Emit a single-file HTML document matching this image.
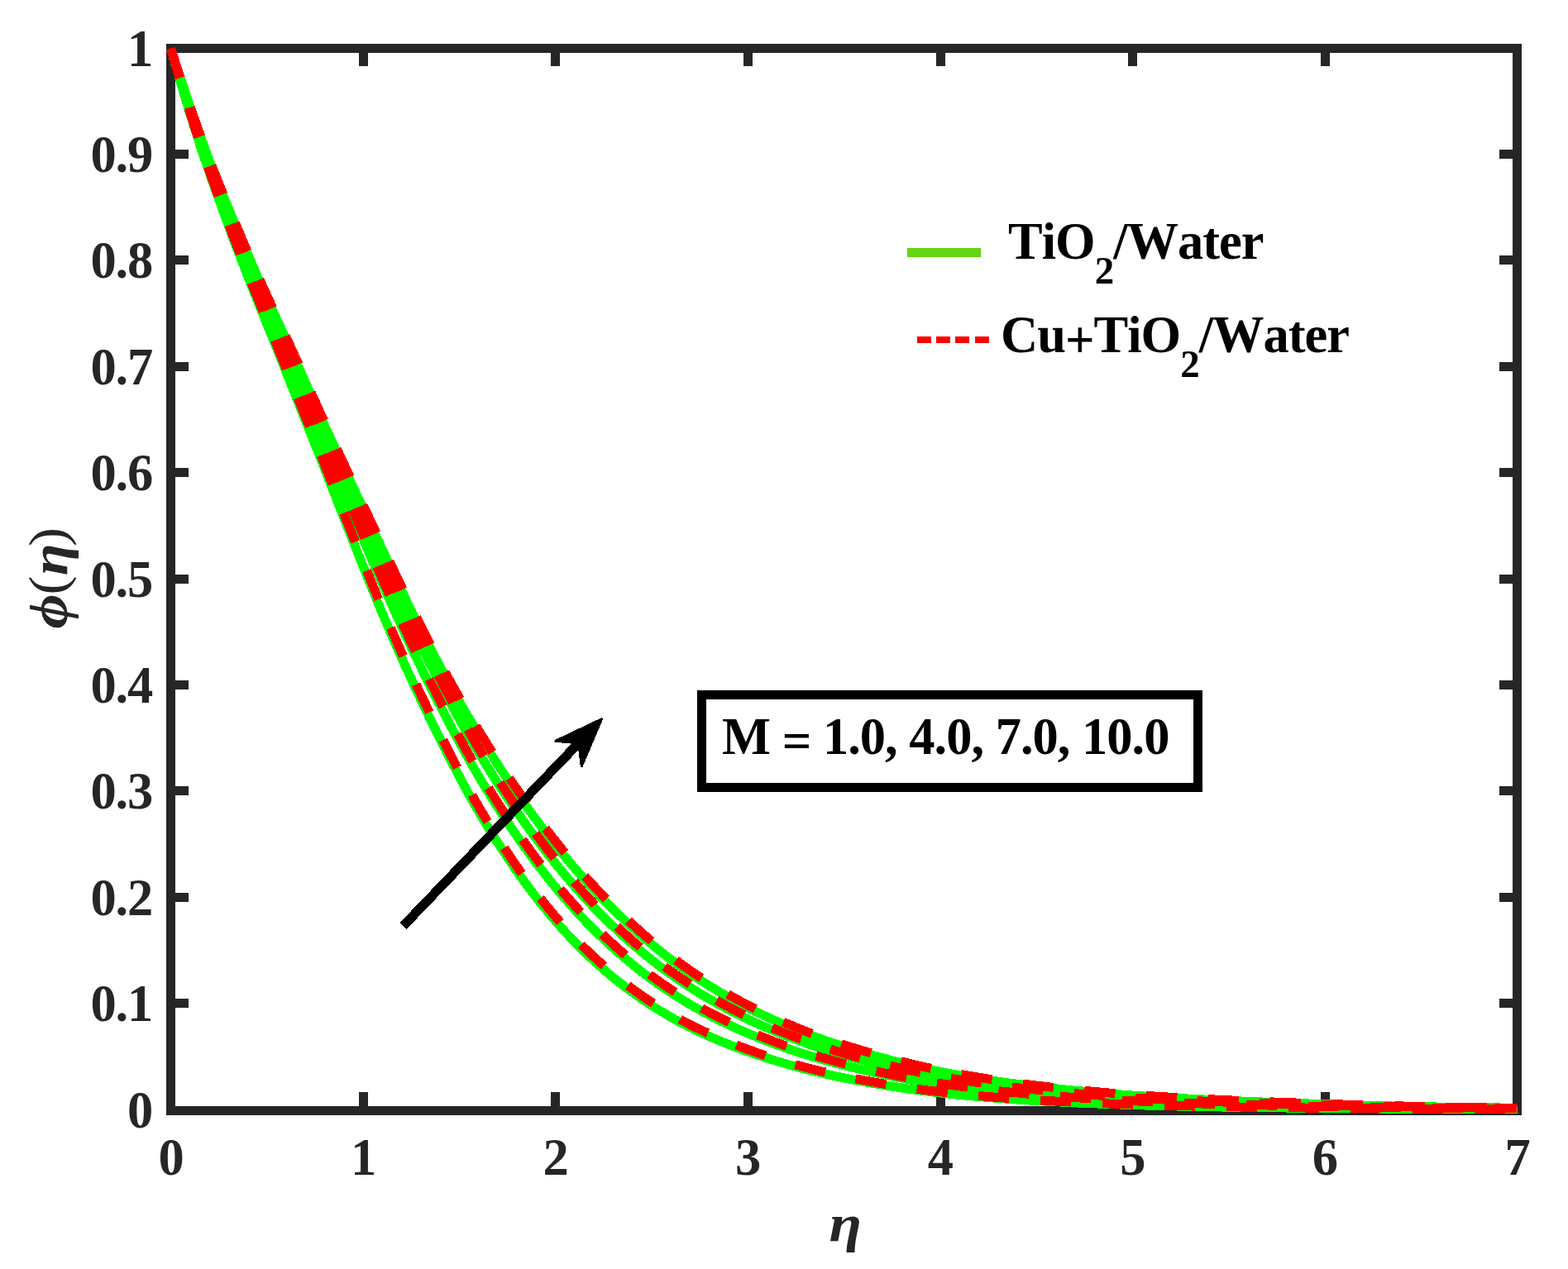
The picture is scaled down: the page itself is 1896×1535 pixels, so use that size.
<!DOCTYPE html>
<html lang="en"><head><meta charset="utf-8"><title>Concentration profile</title>
<style>html,body{margin:0;padding:0;background:#fff}svg{display:block}.tk{font-family:"Liberation Serif",serif;font-weight:bold;font-size:62.5px;fill:#262626;font-kerning:none}.an{font-family:"Liberation Serif",serif;font-weight:bold;font-size:62.5px;fill:#000;font-kerning:none;letter-spacing:-1px}.gr{font-family:"Liberation Serif","DejaVu Serif",serif;font-weight:bold;font-style:italic;fill:#262626}.pr{font-family:"Liberation Serif","DejaVu Serif",serif;font-weight:normal;font-style:normal;fill:#262626}</style></head><body>
<svg width="1896" height="1535" viewBox="0 0 1896 1535">
<rect x="0" y="0" width="1896" height="1535" fill="#fff"/>
<defs><clipPath id="cp"><rect x="201" y="53" width="1639" height="1296"/></clipPath></defs>
<g shape-rendering="crispEdges" fill="#262626">
<rect x="201" y="53" width="1639" height="11"/>
<rect x="201" y="1338" width="1639" height="11"/>
<rect x="201" y="53" width="11" height="1296"/>
<rect x="1829" y="53" width="11" height="1296"/>
<rect x="434" y="1321" width="11" height="18"/>
<rect x="434" y="63" width="11" height="17"/>
<rect x="666" y="1321" width="11" height="18"/>
<rect x="666" y="63" width="11" height="17"/>
<rect x="899" y="1321" width="11" height="18"/>
<rect x="899" y="63" width="11" height="17"/>
<rect x="1132" y="1321" width="11" height="18"/>
<rect x="1132" y="63" width="11" height="17"/>
<rect x="1364" y="1321" width="11" height="18"/>
<rect x="1364" y="63" width="11" height="17"/>
<rect x="1597" y="1321" width="11" height="18"/>
<rect x="1597" y="63" width="11" height="17"/>
<rect x="211" y="1208" width="17" height="11"/>
<rect x="1813" y="1208" width="17" height="11"/>
<rect x="211" y="1080" width="17" height="11"/>
<rect x="1813" y="1080" width="17" height="11"/>
<rect x="211" y="951" width="17" height="11"/>
<rect x="1813" y="951" width="17" height="11"/>
<rect x="211" y="823" width="17" height="11"/>
<rect x="1813" y="823" width="17" height="11"/>
<rect x="211" y="695" width="17" height="11"/>
<rect x="1813" y="695" width="17" height="11"/>
<rect x="211" y="566" width="17" height="11"/>
<rect x="1813" y="566" width="17" height="11"/>
<rect x="211" y="438" width="17" height="11"/>
<rect x="1813" y="438" width="17" height="11"/>
<rect x="211" y="309" width="17" height="11"/>
<rect x="1813" y="309" width="17" height="11"/>
<rect x="211" y="181" width="17" height="11"/>
<rect x="1813" y="181" width="17" height="11"/>
</g>
<g class="tk" text-anchor="middle">
<text x="207.0" y="1420.7">0</text>
<text x="439.6" y="1420.7">1</text>
<text x="672.1" y="1420.7">2</text>
<text x="904.7" y="1420.7">3</text>
<text x="1137.3" y="1420.7">4</text>
<text x="1369.9" y="1420.7">5</text>
<text x="1602.4" y="1420.7">6</text>
<text x="1835.0" y="1420.7">7</text>
</g>
<g class="tk" text-anchor="end" letter-spacing="-1.2">
<text x="184" y="1363.5">0</text>
<text x="184" y="1235.1">0.1</text>
<text x="184" y="1106.7">0.2</text>
<text x="184" y="978.3">0.3</text>
<text x="184" y="850.0">0.4</text>
<text x="184" y="721.6">0.5</text>
<text x="184" y="593.2">0.6</text>
<text x="184" y="464.8">0.7</text>
<text x="184" y="336.4">0.8</text>
<text x="184" y="208.0">0.9</text>
<text x="184" y="79.6">1</text>
</g>
<text class="gr" transform="translate(1004.7,1500.8) scale(1.12,1)" x="-2" y="0" font-size="64.3">η</text>
<text class="gr" transform="translate(81.1,759.3) rotate(-90) scale(1.1,1)" font-size="64.3"><tspan x="-1" font-size="66">ϕ</tspan><tspan class="pr" x="36.1" dy="-2.5" font-size="62.8">(</tspan><tspan x="57.4" dy="2.5">η</tspan><tspan class="pr" x="89.4" dy="-2.5" font-size="62.8">)</tspan></text>
<g clip-path="url(#cp)" fill="none" shape-rendering="crispEdges" stroke-linejoin="round">
<path d="M206.50,58.50 L208.83,66.70 L211.16,74.83 L213.49,82.89 L215.82,90.88 L218.15,98.79 L220.47,106.64 L222.80,114.41 L225.13,122.11 L227.46,129.74 L229.79,137.30 L232.12,144.78 L234.45,152.19 L236.78,159.52 L239.11,166.77 L241.44,173.92 L243.76,180.99 L246.09,187.97 L248.42,194.87 L250.75,201.69 L253.08,208.43 L255.41,215.11 L257.74,221.71 L260.07,228.26 L262.40,234.75 L264.73,241.20 L267.06,247.61 L269.38,253.98 L271.71,260.34 L274.04,266.68 L276.37,273.02 L278.70,279.34 L281.03,285.61 L283.36,291.84 L285.69,298.02 L288.02,304.16 L290.35,310.26 L292.67,316.32 L295.00,322.34 L297.33,328.33 L299.66,334.29 L301.99,340.21 L304.32,346.10 L306.65,351.97 L308.98,357.81 L311.31,363.63 L313.64,369.42 L315.96,375.20 L318.29,380.96 L320.62,386.70 L322.95,392.43 L325.28,398.17 L327.61,403.93 L329.94,409.70 L332.27,415.50 L334.60,421.31 L336.93,427.13 L339.26,432.97 L341.58,438.82 L343.91,444.68 L346.24,450.55 L348.57,456.42 L350.90,462.30 L353.23,468.17 L355.56,474.05 L357.89,479.92 L360.22,485.78 L362.55,491.63 L364.87,497.47 L367.20,503.29 L369.53,509.08 L371.86,514.85 L374.19,520.60 L376.52,526.35 L378.85,532.14 L381.18,537.97 L383.51,543.83 L385.84,549.72 L388.17,555.63 L390.49,561.57 L392.82,567.52 L395.15,573.49 L397.48,579.47 L399.81,585.46 L402.14,591.45 L404.47,597.44 L406.80,603.42 L409.13,609.40 L411.46,615.36 L413.78,621.31 L416.11,627.23 L418.44,633.13 L420.77,638.99 L423.10,644.82 L425.43,650.65 L427.76,656.48 L430.09,662.32 L432.42,668.16 L434.75,674.01 L437.08,679.84 L439.40,685.67 L441.73,691.49 L444.06,697.30 L446.39,703.08 L448.72,708.85 L451.05,714.58 L453.38,720.29 L455.71,725.97 L458.04,731.61 L460.37,737.21 L462.69,742.77 L465.02,748.28 L467.35,753.75 L469.68,759.19 L472.01,764.60 L474.34,769.98 L476.67,775.32 L479.00,780.63 L481.33,785.91 L483.66,791.16 L485.98,796.38 L488.31,801.57 L490.64,806.73 L492.97,811.86 L495.30,816.96 L497.63,822.03 L499.96,827.08 L502.29,832.09 L504.62,837.08 L506.95,842.03 L509.28,846.96 L511.60,851.87 L513.93,856.74 L516.26,861.59 L518.59,866.41 L520.92,871.21 L523.25,875.98 L525.58,880.73 L527.91,885.45 L530.24,890.16 L532.57,894.84 L534.89,899.50 L537.22,904.14 L539.55,908.75 L541.88,913.34 L544.21,917.90 L546.54,922.43 L548.87,926.93 L551.20,931.40 L553.53,935.84 L555.86,940.24 L558.19,944.62 L560.51,948.95 L562.84,953.25 L565.17,957.51 L567.50,961.74 L569.83,965.92 L572.16,970.07 L574.49,974.17 L576.82,978.23 L579.15,982.25 L581.48,986.23 L583.80,990.16 L586.13,994.05 L588.46,997.89 L590.79,1001.69 L593.12,1005.45 L595.45,1009.18 L597.78,1012.87 L600.11,1016.54 L602.44,1020.18 L604.77,1023.78 L607.10,1027.35 L609.42,1030.89 L611.75,1034.40 L614.08,1037.88 L616.41,1041.33 L618.74,1044.74 L621.07,1048.13 L623.40,1051.48 L625.73,1054.80 L628.06,1058.09 L630.39,1061.35 L632.71,1064.58 L635.04,1067.78 L637.37,1070.94 L639.70,1074.08 L642.03,1077.18 L644.36,1080.25 L646.69,1083.29 L649.02,1086.30 L651.35,1089.28 L653.68,1092.23 L656.01,1095.15 L658.33,1098.04 L660.66,1100.90 L662.99,1103.72 L665.32,1106.52 L667.65,1109.29 L669.98,1112.03 L672.31,1114.73 L674.64,1117.41 L676.97,1120.06 L679.30,1122.68 L681.62,1125.26 L683.95,1127.82 L686.28,1130.35 L688.61,1132.86 L690.94,1135.33 L693.27,1137.77 L695.60,1140.19 L697.93,1142.57 L700.26,1144.93 L702.59,1147.26 L704.91,1149.57 L707.24,1151.84 L709.57,1154.09 L711.90,1156.31 L714.23,1158.50 L716.56,1160.67 L718.89,1162.80 L721.22,1164.92 L723.55,1167.01 L725.88,1169.08 L728.21,1171.12 L730.53,1173.15 L732.86,1175.15 L735.19,1177.12 L737.52,1179.08 L739.85,1181.01 L742.18,1182.92 L744.51,1184.81 L746.84,1186.68 L749.17,1188.53 L751.50,1190.35 L753.82,1192.16 L756.15,1193.94 L758.48,1195.70 L760.81,1197.44 L763.14,1199.16 L765.47,1200.86 L767.80,1202.54 L770.13,1204.20 L772.46,1205.84 L774.79,1207.46 L777.12,1209.06 L779.44,1210.64 L781.77,1212.20 L784.10,1213.75 L786.43,1215.27 L788.76,1216.78 L791.09,1218.26 L793.42,1219.73 L795.75,1221.18 L798.08,1222.61 L800.41,1224.03 L802.73,1225.42 L805.06,1226.80 L807.39,1228.16 L809.72,1229.50 L812.05,1230.83 L814.38,1232.14 L816.71,1233.43 L819.04,1234.71 L821.37,1235.97 L823.70,1237.21 L826.03,1238.43 L828.35,1239.64 L830.68,1240.84 L833.01,1242.02 L835.34,1243.18 L837.67,1244.33 L840.00,1245.46 L842.33,1246.58 L844.66,1247.69 L846.99,1248.78 L849.32,1249.86 L851.64,1250.93 L853.97,1251.98 L856.30,1253.02 L858.63,1254.05 L860.96,1255.07 L863.29,1256.07 L865.62,1257.07 L867.95,1258.05 L870.28,1259.02 L872.61,1259.98 L874.93,1260.94 L877.26,1261.88 L879.59,1262.81 L881.92,1263.73 L884.25,1264.64 L886.58,1265.54 L888.91,1266.43 L891.24,1267.32 L893.57,1268.19 L895.90,1269.06 L898.23,1269.92 L900.55,1270.77 L902.88,1271.61 L905.21,1272.44 L907.54,1273.26 L909.87,1274.07 L912.20,1274.88 L914.53,1275.67 L916.86,1276.46 L919.19,1277.24 L921.52,1278.01 L923.84,1278.77 L926.17,1279.52 L928.50,1280.27 L930.83,1281.00 L933.16,1281.73 L935.49,1282.45 L937.82,1283.16 L940.15,1283.86 L942.48,1284.56 L944.81,1285.25 L947.14,1285.93 L949.46,1286.60 L951.79,1287.27 L954.12,1287.92 L956.45,1288.57 L958.78,1289.22 L961.11,1289.85 L963.44,1290.48 L965.77,1291.10 L968.10,1291.72 L970.43,1292.32 L972.75,1292.93 L975.08,1293.52 L977.41,1294.11 L979.74,1294.69 L982.07,1295.26 L984.40,1295.83 L986.73,1296.39 L989.06,1296.94 L991.39,1297.49 L993.72,1298.03 L996.05,1298.56 L998.37,1299.09 L1000.70,1299.61 L1003.03,1300.13 L1005.36,1300.64 L1007.69,1301.14 L1010.02,1301.64 L1012.35,1302.14 L1014.68,1302.62 L1017.01,1303.11 L1019.34,1303.58 L1021.66,1304.05 L1023.99,1304.52 L1026.32,1304.98 L1028.65,1305.44 L1030.98,1305.89 L1033.31,1306.33 L1035.64,1306.77 L1037.97,1307.21 L1040.30,1307.64 L1042.63,1308.07 L1044.95,1308.49 L1047.28,1308.91 L1049.61,1309.32 L1051.94,1309.73 L1054.27,1310.14 L1056.60,1310.54 L1058.93,1310.93 L1061.26,1311.33 L1063.59,1311.72 L1065.92,1312.10 L1068.25,1312.49 L1070.57,1312.86 L1072.90,1313.24 L1075.23,1313.61 L1077.56,1313.98 L1079.89,1314.35 L1082.22,1314.71 L1084.55,1315.06 L1086.88,1315.42 L1089.21,1315.76 L1091.54,1316.11 L1093.86,1316.45 L1096.19,1316.79 L1098.52,1317.12 L1100.85,1317.45 L1103.18,1317.77 L1105.51,1318.09 L1107.84,1318.41 L1110.17,1318.72 L1112.50,1319.02 L1114.83,1319.32 L1117.16,1319.62 L1119.48,1319.91 L1121.81,1320.20 L1124.14,1320.49 L1126.47,1320.77 L1128.80,1321.04 L1131.13,1321.31 L1133.46,1321.58 L1135.79,1321.84 L1138.12,1322.09 L1140.45,1322.35 L1142.77,1322.60 L1145.10,1322.85 L1147.43,1323.09 L1149.76,1323.33 L1152.09,1323.57 L1154.42,1323.81 L1156.75,1324.04 L1159.08,1324.27 L1161.41,1324.50 L1163.74,1324.72 L1166.07,1324.95 L1168.39,1325.17 L1170.72,1325.38 L1173.05,1325.60 L1175.38,1325.81 L1177.71,1326.02 L1180.04,1326.22 L1182.37,1326.43 L1184.70,1326.63 L1187.03,1326.83 L1189.36,1327.02 L1191.68,1327.21 L1194.01,1327.41 L1196.34,1327.59 L1198.67,1327.78 L1201.00,1327.96 L1203.33,1328.14 L1205.66,1328.32 L1207.99,1328.50 L1210.32,1328.67 L1212.65,1328.84 L1214.97,1329.01 L1217.30,1329.18 L1219.63,1329.34 L1221.96,1329.51 L1224.29,1329.67 L1226.62,1329.82 L1228.95,1329.98 L1231.28,1330.13 L1233.61,1330.29 L1235.94,1330.43 L1238.27,1330.58 L1240.59,1330.73 L1242.92,1330.87 L1245.25,1331.01 L1247.58,1331.15 L1249.91,1331.29 L1252.24,1331.42 L1254.57,1331.55 L1256.90,1331.69 L1259.23,1331.82 L1261.56,1331.94 L1263.88,1332.07 L1266.21,1332.20 L1268.54,1332.32 L1270.87,1332.44 L1273.20,1332.57 L1275.53,1332.69 L1277.86,1332.81 L1280.19,1332.92 L1282.52,1333.04 L1284.85,1333.15 L1287.18,1333.27 L1289.50,1333.38 L1291.83,1333.49 L1294.16,1333.60 L1296.49,1333.71 L1298.82,1333.82 L1301.15,1333.92 L1303.48,1334.03 L1305.81,1334.13 L1308.14,1334.24 L1310.47,1334.34 L1312.79,1334.44 L1315.12,1334.54 L1317.45,1334.63 L1319.78,1334.73 L1322.11,1334.83 L1324.44,1334.92 L1326.77,1335.01 L1329.10,1335.11 L1331.43,1335.20 L1333.76,1335.29 L1336.09,1335.38 L1338.41,1335.47 L1340.74,1335.55 L1343.07,1335.64 L1345.40,1335.72 L1347.73,1335.81 L1350.06,1335.89 L1352.39,1335.97 L1354.72,1336.05 L1357.05,1336.13 L1359.38,1336.21 L1361.70,1336.29 L1364.03,1336.37 L1366.36,1336.44 L1368.69,1336.52 L1371.02,1336.59 L1373.35,1336.67 L1375.68,1336.74 L1378.01,1336.81 L1380.34,1336.88 L1382.67,1336.95 L1384.99,1337.02 L1387.32,1337.09 L1389.65,1337.16 L1391.98,1337.22 L1394.31,1337.29 L1396.64,1337.35 L1398.97,1337.42 L1401.30,1337.48 L1403.63,1337.54 L1405.96,1337.60 L1408.29,1337.66 L1410.61,1337.72 L1412.94,1337.78 L1415.27,1337.83 L1417.60,1337.89 L1419.93,1337.94 L1422.26,1337.99 L1424.59,1338.05 L1426.92,1338.10 L1429.25,1338.15 L1431.58,1338.20 L1433.90,1338.24 L1436.23,1338.29 L1438.56,1338.34 L1440.89,1338.38 L1443.22,1338.43 L1445.55,1338.47 L1447.88,1338.52 L1450.21,1338.56 L1452.54,1338.60 L1454.87,1338.64 L1457.20,1338.68 L1459.52,1338.72 L1461.85,1338.76 L1464.18,1338.80 L1466.51,1338.84 L1468.84,1338.88 L1471.17,1338.91 L1473.50,1338.95 L1475.83,1338.99 L1478.16,1339.02 L1480.49,1339.06 L1482.81,1339.09 L1485.14,1339.13 L1487.47,1339.16 L1489.80,1339.19 L1492.13,1339.23 L1494.46,1339.26 L1496.79,1339.29 L1499.12,1339.32 L1501.45,1339.35 L1503.78,1339.39 L1506.11,1339.42 L1508.43,1339.45 L1510.76,1339.48 L1513.09,1339.51 L1515.42,1339.54 L1517.75,1339.57 L1520.08,1339.60 L1522.41,1339.62 L1524.74,1339.65 L1527.07,1339.68 L1529.40,1339.71 L1531.72,1339.74 L1534.05,1339.77 L1536.38,1339.79 L1538.71,1339.82 L1541.04,1339.85 L1543.37,1339.88 L1545.70,1339.91 L1548.03,1339.93 L1550.36,1339.96 L1552.69,1339.99 L1555.02,1340.01 L1557.34,1340.04 L1559.67,1340.07 L1562.00,1340.09 L1564.33,1340.12 L1566.66,1340.14 L1568.99,1340.17 L1571.32,1340.19 L1573.65,1340.22 L1575.98,1340.24 L1578.31,1340.27 L1580.63,1340.29 L1582.96,1340.31 L1585.29,1340.34 L1587.62,1340.36 L1589.95,1340.38 L1592.28,1340.41 L1594.61,1340.43 L1596.94,1340.45 L1599.27,1340.47 L1601.60,1340.50 L1603.92,1340.52 L1606.25,1340.54 L1608.58,1340.56 L1610.91,1340.58 L1613.24,1340.60 L1615.57,1340.62 L1617.90,1340.64 L1620.23,1340.66 L1622.56,1340.68 L1624.89,1340.70 L1627.22,1340.72 L1629.54,1340.74 L1631.87,1340.76 L1634.20,1340.78 L1636.53,1340.80 L1638.86,1340.81 L1641.19,1340.83 L1643.52,1340.85 L1645.85,1340.87 L1648.18,1340.88 L1650.51,1340.90 L1652.83,1340.92 L1655.16,1340.93 L1657.49,1340.95 L1659.82,1340.97 L1662.15,1340.98 L1664.48,1341.00 L1666.81,1341.01 L1669.14,1341.03 L1671.47,1341.04 L1673.80,1341.06 L1676.13,1341.07 L1678.45,1341.09 L1680.78,1341.10 L1683.11,1341.12 L1685.44,1341.13 L1687.77,1341.14 L1690.10,1341.16 L1692.43,1341.17 L1694.76,1341.18 L1697.09,1341.19 L1699.42,1341.21 L1701.74,1341.22 L1704.07,1341.23 L1706.40,1341.24 L1708.73,1341.25 L1711.06,1341.27 L1713.39,1341.28 L1715.72,1341.29 L1718.05,1341.30 L1720.38,1341.31 L1722.71,1341.32 L1725.04,1341.33 L1727.36,1341.34 L1729.69,1341.35 L1732.02,1341.36 L1734.35,1341.37 L1736.68,1341.37 L1739.01,1341.38 L1741.34,1341.39 L1743.67,1341.40 L1746.00,1341.40 L1748.33,1341.41 L1750.65,1341.41 L1752.98,1341.42 L1755.31,1341.43 L1757.64,1341.43 L1759.97,1341.44 L1762.30,1341.44 L1764.63,1341.45 L1766.96,1341.45 L1769.29,1341.46 L1771.62,1341.46 L1773.94,1341.46 L1776.27,1341.47 L1778.60,1341.47 L1780.93,1341.47 L1783.26,1341.48 L1785.59,1341.48 L1787.92,1341.48 L1790.25,1341.48 L1792.58,1341.48 L1794.91,1341.49 L1797.24,1341.49 L1799.56,1341.49 L1801.89,1341.49 L1804.22,1341.49 L1806.55,1341.49 L1808.88,1341.49 L1811.21,1341.49 L1813.54,1341.49 L1815.87,1341.49 L1818.20,1341.49 L1820.53,1341.49 L1822.85,1341.49 L1825.18,1341.49 L1827.51,1341.49 L1829.84,1341.49 L1832.17,1341.49 L1834.50,1341.49" stroke="#00ff00" stroke-width="11"/>
<path d="M206.50,58.50 L208.83,66.24 L211.16,73.92 L213.49,81.55 L215.82,89.11 L218.15,96.62 L220.47,104.07 L222.80,111.46 L225.13,118.79 L227.46,126.06 L229.79,133.27 L232.12,140.43 L234.45,147.52 L236.78,154.54 L239.11,161.50 L241.44,168.37 L243.76,175.15 L246.09,181.86 L248.42,188.48 L250.75,195.02 L253.08,201.49 L255.41,207.88 L257.74,214.20 L260.07,220.46 L262.40,226.66 L264.73,232.81 L267.06,238.91 L269.38,244.97 L271.71,251.00 L274.04,257.00 L276.37,263.00 L278.70,268.97 L281.03,274.92 L283.36,280.85 L285.69,286.76 L288.02,292.64 L290.35,298.49 L292.67,304.29 L295.00,310.07 L297.33,315.80 L299.66,321.51 L301.99,327.18 L304.32,332.82 L306.65,338.43 L308.98,344.02 L311.31,349.58 L313.64,355.12 L315.96,360.63 L318.29,366.13 L320.62,371.60 L322.95,377.06 L325.28,382.52 L327.61,387.97 L329.94,393.43 L332.27,398.89 L334.60,404.35 L336.93,409.82 L339.26,415.28 L341.58,420.75 L343.91,426.23 L346.24,431.73 L348.57,437.24 L350.90,442.77 L353.23,448.31 L355.56,453.85 L357.89,459.41 L360.22,464.96 L362.55,470.52 L364.87,476.07 L367.20,481.62 L369.53,487.16 L371.86,492.69 L374.19,498.20 L376.52,503.72 L378.85,509.25 L381.18,514.80 L383.51,520.36 L385.84,525.92 L388.17,531.49 L390.49,537.05 L392.82,542.62 L395.15,548.17 L397.48,553.72 L399.81,559.28 L402.14,564.84 L404.47,570.40 L406.80,575.95 L409.13,581.50 L411.46,587.04 L413.78,592.57 L416.11,598.09 L418.44,603.59 L420.77,609.07 L423.10,614.54 L425.43,620.00 L427.76,625.46 L430.09,630.92 L432.42,636.38 L434.75,641.84 L437.08,647.30 L439.40,652.74 L441.73,658.18 L444.06,663.61 L446.39,669.02 L448.72,674.42 L451.05,679.80 L453.38,685.16 L455.71,690.51 L458.04,695.85 L460.37,701.17 L462.69,706.47 L465.02,711.76 L467.35,717.02 L469.68,722.27 L472.01,727.50 L474.34,732.71 L476.67,737.90 L479.00,743.07 L481.33,748.21 L483.66,753.33 L485.98,758.43 L488.31,763.50 L490.64,768.54 L492.97,773.55 L495.30,778.54 L497.63,783.49 L499.96,788.40 L502.29,793.29 L504.62,798.13 L506.95,802.95 L509.28,807.75 L511.60,812.51 L513.93,817.26 L516.26,821.97 L518.59,826.67 L520.92,831.34 L523.25,835.98 L525.58,840.60 L527.91,845.19 L530.24,849.77 L532.57,854.32 L534.89,858.85 L537.22,863.36 L539.55,867.84 L541.88,872.30 L544.21,876.73 L546.54,881.13 L548.87,885.51 L551.20,889.86 L553.53,894.18 L555.86,898.47 L558.19,902.73 L560.51,906.96 L562.84,911.16 L565.17,915.33 L567.50,919.46 L569.83,923.57 L572.16,927.64 L574.49,931.67 L576.82,935.67 L579.15,939.64 L581.48,943.57 L583.80,947.46 L586.13,951.32 L588.46,955.14 L590.79,958.92 L593.12,962.68 L595.45,966.40 L597.78,970.10 L600.11,973.77 L602.44,977.41 L604.77,981.02 L607.10,984.60 L609.42,988.16 L611.75,991.69 L614.08,995.19 L616.41,998.66 L618.74,1002.11 L621.07,1005.53 L623.40,1008.92 L625.73,1012.28 L628.06,1015.62 L630.39,1018.93 L632.71,1022.21 L635.04,1025.47 L637.37,1028.69 L639.70,1031.90 L642.03,1035.07 L644.36,1038.22 L646.69,1041.34 L649.02,1044.44 L651.35,1047.51 L653.68,1050.56 L656.01,1053.57 L658.33,1056.57 L660.66,1059.53 L662.99,1062.47 L665.32,1065.39 L667.65,1068.28 L669.98,1071.14 L672.31,1073.98 L674.64,1076.79 L676.97,1079.58 L679.30,1082.34 L681.62,1085.07 L683.95,1087.78 L686.28,1090.46 L688.61,1093.12 L690.94,1095.75 L693.27,1098.35 L695.60,1100.93 L697.93,1103.48 L700.26,1106.01 L702.59,1108.51 L704.91,1110.98 L707.24,1113.43 L709.57,1115.85 L711.90,1118.25 L714.23,1120.62 L716.56,1122.96 L718.89,1125.28 L721.22,1127.58 L723.55,1129.85 L725.88,1132.10 L728.21,1134.33 L730.53,1136.54 L732.86,1138.73 L735.19,1140.90 L737.52,1143.04 L739.85,1145.17 L742.18,1147.27 L744.51,1149.36 L746.84,1151.42 L749.17,1153.46 L751.50,1155.48 L753.82,1157.48 L756.15,1159.46 L758.48,1161.42 L760.81,1163.36 L763.14,1165.28 L765.47,1167.18 L767.80,1169.06 L770.13,1170.92 L772.46,1172.77 L774.79,1174.59 L777.12,1176.39 L779.44,1178.18 L781.77,1179.94 L784.10,1181.69 L786.43,1183.41 L788.76,1185.12 L791.09,1186.81 L793.42,1188.48 L795.75,1190.13 L798.08,1191.77 L800.41,1193.39 L802.73,1194.98 L805.06,1196.56 L807.39,1198.13 L809.72,1199.67 L812.05,1201.20 L814.38,1202.71 L816.71,1204.20 L819.04,1205.68 L821.37,1207.14 L823.70,1208.58 L826.03,1210.01 L828.35,1211.42 L830.68,1212.81 L833.01,1214.19 L835.34,1215.55 L837.67,1216.90 L840.00,1218.23 L842.33,1219.55 L844.66,1220.85 L846.99,1222.14 L849.32,1223.41 L851.64,1224.67 L853.97,1225.92 L856.30,1227.16 L858.63,1228.38 L860.96,1229.58 L863.29,1230.78 L865.62,1231.96 L867.95,1233.13 L870.28,1234.29 L872.61,1235.44 L874.93,1236.57 L877.26,1237.69 L879.59,1238.80 L881.92,1239.90 L884.25,1240.99 L886.58,1242.07 L888.91,1243.14 L891.24,1244.19 L893.57,1245.24 L895.90,1246.28 L898.23,1247.30 L900.55,1248.32 L902.88,1249.33 L905.21,1250.32 L907.54,1251.31 L909.87,1252.28 L912.20,1253.25 L914.53,1254.20 L916.86,1255.15 L919.19,1256.08 L921.52,1257.01 L923.84,1257.92 L926.17,1258.83 L928.50,1259.73 L930.83,1260.61 L933.16,1261.49 L935.49,1262.36 L937.82,1263.22 L940.15,1264.07 L942.48,1264.92 L944.81,1265.75 L947.14,1266.58 L949.46,1267.39 L951.79,1268.20 L954.12,1269.00 L956.45,1269.79 L958.78,1270.58 L961.11,1271.35 L963.44,1272.12 L965.77,1272.88 L968.10,1273.63 L970.43,1274.38 L972.75,1275.11 L975.08,1275.84 L977.41,1276.57 L979.74,1277.28 L982.07,1277.99 L984.40,1278.69 L986.73,1279.38 L989.06,1280.06 L991.39,1280.74 L993.72,1281.41 L996.05,1282.07 L998.37,1282.72 L1000.70,1283.37 L1003.03,1284.01 L1005.36,1284.65 L1007.69,1285.27 L1010.02,1285.89 L1012.35,1286.51 L1014.68,1287.12 L1017.01,1287.72 L1019.34,1288.31 L1021.66,1288.90 L1023.99,1289.49 L1026.32,1290.07 L1028.65,1290.64 L1030.98,1291.21 L1033.31,1291.77 L1035.64,1292.32 L1037.97,1292.88 L1040.30,1293.42 L1042.63,1293.96 L1044.95,1294.50 L1047.28,1295.03 L1049.61,1295.55 L1051.94,1296.07 L1054.27,1296.59 L1056.60,1297.10 L1058.93,1297.61 L1061.26,1298.11 L1063.59,1298.61 L1065.92,1299.11 L1068.25,1299.60 L1070.57,1300.09 L1072.90,1300.57 L1075.23,1301.05 L1077.56,1301.53 L1079.89,1302.00 L1082.22,1302.47 L1084.55,1302.93 L1086.88,1303.39 L1089.21,1303.84 L1091.54,1304.29 L1093.86,1304.73 L1096.19,1305.17 L1098.52,1305.61 L1100.85,1306.03 L1103.18,1306.46 L1105.51,1306.88 L1107.84,1307.29 L1110.17,1307.70 L1112.50,1308.10 L1114.83,1308.50 L1117.16,1308.89 L1119.48,1309.28 L1121.81,1309.66 L1124.14,1310.04 L1126.47,1310.41 L1128.80,1310.77 L1131.13,1311.13 L1133.46,1311.48 L1135.79,1311.83 L1138.12,1312.17 L1140.45,1312.51 L1142.77,1312.84 L1145.10,1313.17 L1147.43,1313.50 L1149.76,1313.82 L1152.09,1314.14 L1154.42,1314.46 L1156.75,1314.77 L1159.08,1315.08 L1161.41,1315.39 L1163.74,1315.69 L1166.07,1315.99 L1168.39,1316.29 L1170.72,1316.58 L1173.05,1316.87 L1175.38,1317.15 L1177.71,1317.44 L1180.04,1317.71 L1182.37,1317.99 L1184.70,1318.26 L1187.03,1318.53 L1189.36,1318.80 L1191.68,1319.06 L1194.01,1319.32 L1196.34,1319.58 L1198.67,1319.83 L1201.00,1320.09 L1203.33,1320.33 L1205.66,1320.58 L1207.99,1320.82 L1210.32,1321.06 L1212.65,1321.30 L1214.97,1321.53 L1217.30,1321.76 L1219.63,1321.99 L1221.96,1322.21 L1224.29,1322.44 L1226.62,1322.66 L1228.95,1322.87 L1231.28,1323.09 L1233.61,1323.30 L1235.94,1323.51 L1238.27,1323.71 L1240.59,1323.92 L1242.92,1324.12 L1245.25,1324.32 L1247.58,1324.51 L1249.91,1324.71 L1252.24,1324.90 L1254.57,1325.09 L1256.90,1325.27 L1259.23,1325.46 L1261.56,1325.64 L1263.88,1325.82 L1266.21,1326.00 L1268.54,1326.18 L1270.87,1326.36 L1273.20,1326.53 L1275.53,1326.70 L1277.86,1326.88 L1280.19,1327.04 L1282.52,1327.21 L1284.85,1327.38 L1287.18,1327.54 L1289.50,1327.70 L1291.83,1327.87 L1294.16,1328.02 L1296.49,1328.18 L1298.82,1328.34 L1301.15,1328.49 L1303.48,1328.64 L1305.81,1328.80 L1308.14,1328.94 L1310.47,1329.09 L1312.79,1329.24 L1315.12,1329.38 L1317.45,1329.53 L1319.78,1329.67 L1322.11,1329.81 L1324.44,1329.94 L1326.77,1330.08 L1329.10,1330.22 L1331.43,1330.35 L1333.76,1330.48 L1336.09,1330.61 L1338.41,1330.74 L1340.74,1330.87 L1343.07,1331.00 L1345.40,1331.12 L1347.73,1331.25 L1350.06,1331.37 L1352.39,1331.49 L1354.72,1331.61 L1357.05,1331.72 L1359.38,1331.84 L1361.70,1331.96 L1364.03,1332.07 L1366.36,1332.18 L1368.69,1332.29 L1371.02,1332.40 L1373.35,1332.51 L1375.68,1332.62 L1378.01,1332.72 L1380.34,1332.83 L1382.67,1332.93 L1384.99,1333.03 L1387.32,1333.13 L1389.65,1333.23 L1391.98,1333.33 L1394.31,1333.43 L1396.64,1333.53 L1398.97,1333.62 L1401.30,1333.71 L1403.63,1333.81 L1405.96,1333.90 L1408.29,1333.98 L1410.61,1334.07 L1412.94,1334.16 L1415.27,1334.24 L1417.60,1334.33 L1419.93,1334.41 L1422.26,1334.49 L1424.59,1334.57 L1426.92,1334.65 L1429.25,1334.73 L1431.58,1334.81 L1433.90,1334.88 L1436.23,1334.96 L1438.56,1335.03 L1440.89,1335.10 L1443.22,1335.17 L1445.55,1335.24 L1447.88,1335.31 L1450.21,1335.38 L1452.54,1335.45 L1454.87,1335.52 L1457.20,1335.58 L1459.52,1335.65 L1461.85,1335.71 L1464.18,1335.78 L1466.51,1335.84 L1468.84,1335.90 L1471.17,1335.96 L1473.50,1336.03 L1475.83,1336.09 L1478.16,1336.15 L1480.49,1336.20 L1482.81,1336.26 L1485.14,1336.32 L1487.47,1336.38 L1489.80,1336.43 L1492.13,1336.49 L1494.46,1336.55 L1496.79,1336.60 L1499.12,1336.65 L1501.45,1336.71 L1503.78,1336.76 L1506.11,1336.82 L1508.43,1336.87 L1510.76,1336.92 L1513.09,1336.97 L1515.42,1337.02 L1517.75,1337.07 L1520.08,1337.12 L1522.41,1337.17 L1524.74,1337.22 L1527.07,1337.27 L1529.40,1337.32 L1531.72,1337.37 L1534.05,1337.42 L1536.38,1337.47 L1538.71,1337.51 L1541.04,1337.56 L1543.37,1337.61 L1545.70,1337.66 L1548.03,1337.70 L1550.36,1337.75 L1552.69,1337.80 L1555.02,1337.84 L1557.34,1337.89 L1559.67,1337.93 L1562.00,1337.98 L1564.33,1338.02 L1566.66,1338.07 L1568.99,1338.11 L1571.32,1338.16 L1573.65,1338.20 L1575.98,1338.25 L1578.31,1338.29 L1580.63,1338.33 L1582.96,1338.38 L1585.29,1338.42 L1587.62,1338.46 L1589.95,1338.51 L1592.28,1338.55 L1594.61,1338.59 L1596.94,1338.63 L1599.27,1338.67 L1601.60,1338.71 L1603.92,1338.75 L1606.25,1338.79 L1608.58,1338.83 L1610.91,1338.87 L1613.24,1338.91 L1615.57,1338.95 L1617.90,1338.99 L1620.23,1339.03 L1622.56,1339.07 L1624.89,1339.10 L1627.22,1339.14 L1629.54,1339.18 L1631.87,1339.21 L1634.20,1339.25 L1636.53,1339.29 L1638.86,1339.32 L1641.19,1339.36 L1643.52,1339.39 L1645.85,1339.43 L1648.18,1339.46 L1650.51,1339.49 L1652.83,1339.53 L1655.16,1339.56 L1657.49,1339.59 L1659.82,1339.62 L1662.15,1339.65 L1664.48,1339.68 L1666.81,1339.72 L1669.14,1339.75 L1671.47,1339.78 L1673.80,1339.80 L1676.13,1339.83 L1678.45,1339.86 L1680.78,1339.89 L1683.11,1339.92 L1685.44,1339.95 L1687.77,1339.97 L1690.10,1340.00 L1692.43,1340.03 L1694.76,1340.05 L1697.09,1340.08 L1699.42,1340.10 L1701.74,1340.13 L1704.07,1340.15 L1706.40,1340.17 L1708.73,1340.20 L1711.06,1340.22 L1713.39,1340.24 L1715.72,1340.27 L1718.05,1340.29 L1720.38,1340.31 L1722.71,1340.33 L1725.04,1340.35 L1727.36,1340.37 L1729.69,1340.39 L1732.02,1340.41 L1734.35,1340.43 L1736.68,1340.44 L1739.01,1340.46 L1741.34,1340.48 L1743.67,1340.50 L1746.00,1340.51 L1748.33,1340.53 L1750.65,1340.55 L1752.98,1340.56 L1755.31,1340.58 L1757.64,1340.59 L1759.97,1340.61 L1762.30,1340.62 L1764.63,1340.64 L1766.96,1340.65 L1769.29,1340.66 L1771.62,1340.68 L1773.94,1340.69 L1776.27,1340.70 L1778.60,1340.71 L1780.93,1340.73 L1783.26,1340.74 L1785.59,1340.75 L1787.92,1340.76 L1790.25,1340.77 L1792.58,1340.78 L1794.91,1340.79 L1797.24,1340.80 L1799.56,1340.81 L1801.89,1340.82 L1804.22,1340.83 L1806.55,1340.84 L1808.88,1340.85 L1811.21,1340.86 L1813.54,1340.87 L1815.87,1340.88 L1818.20,1340.89 L1820.53,1340.90 L1822.85,1340.90 L1825.18,1340.91 L1827.51,1340.92 L1829.84,1340.93 L1832.17,1340.94 L1834.50,1340.94" stroke="#00ff00" stroke-width="11"/>
<path d="M206.50,58.50 L208.83,65.95 L211.16,73.36 L213.49,80.72 L215.82,88.02 L218.15,95.28 L220.47,102.48 L222.80,109.64 L225.13,116.74 L227.46,123.78 L229.79,130.78 L232.12,137.72 L234.45,144.62 L236.78,151.46 L239.11,158.23 L241.44,164.92 L243.76,171.53 L246.09,178.06 L248.42,184.51 L250.75,190.88 L253.08,197.17 L255.41,203.39 L257.74,209.53 L260.07,215.61 L262.40,221.62 L264.73,227.58 L267.06,233.49 L269.38,239.35 L271.71,245.18 L274.04,250.97 L276.37,256.75 L278.70,262.51 L281.03,268.26 L283.36,274.00 L285.69,279.73 L288.02,285.46 L290.35,291.14 L292.67,296.79 L295.00,302.40 L297.33,307.98 L299.66,313.52 L301.99,319.03 L304.32,324.51 L306.65,329.97 L308.98,335.39 L311.31,340.79 L313.64,346.16 L315.96,351.51 L318.29,356.84 L320.62,362.14 L322.95,367.43 L325.28,372.70 L327.61,377.97 L329.94,383.22 L332.27,388.47 L334.60,393.71 L336.93,398.94 L339.26,404.17 L341.58,409.40 L343.91,414.63 L346.24,419.89 L348.57,425.18 L350.90,430.48 L353.23,435.79 L355.56,441.13 L357.89,446.47 L360.22,451.83 L362.55,457.20 L364.87,462.57 L367.20,467.94 L369.53,473.32 L371.86,478.68 L374.19,484.05 L376.52,489.41 L378.85,494.77 L381.18,500.14 L383.51,505.49 L385.84,510.84 L388.17,516.18 L390.49,521.51 L392.82,526.81 L395.15,532.09 L397.48,537.36 L399.81,542.64 L402.14,547.91 L404.47,553.18 L406.80,558.45 L409.13,563.71 L411.46,568.97 L413.78,574.22 L416.11,579.47 L418.44,584.71 L420.77,589.93 L423.10,595.15 L425.43,600.36 L427.76,605.57 L430.09,610.78 L432.42,615.98 L434.75,621.18 L437.08,626.37 L439.40,631.55 L441.73,636.73 L444.06,641.90 L446.39,647.06 L448.72,652.20 L451.05,657.33 L453.38,662.45 L455.71,667.57 L458.04,672.69 L460.37,677.81 L462.69,682.93 L465.02,688.05 L467.35,693.16 L469.68,698.27 L472.01,703.37 L474.34,708.45 L476.67,713.53 L479.00,718.59 L481.33,723.63 L483.66,728.65 L485.98,733.65 L488.31,738.62 L490.64,743.57 L492.97,748.49 L495.30,753.38 L497.63,758.23 L499.96,763.05 L502.29,767.82 L504.62,772.56 L506.95,777.27 L509.28,781.95 L511.60,786.61 L513.93,791.25 L516.26,795.86 L518.59,800.44 L520.92,805.00 L523.25,809.54 L525.58,814.05 L527.91,818.54 L530.24,823.00 L532.57,827.45 L534.89,831.86 L537.22,836.26 L539.55,840.63 L541.88,844.97 L544.21,849.29 L546.54,853.58 L548.87,857.85 L551.20,862.09 L553.53,866.30 L555.86,870.49 L558.19,874.65 L560.51,878.78 L562.84,882.88 L565.17,886.96 L567.50,891.00 L569.83,895.02 L572.16,899.01 L574.49,902.97 L576.82,906.90 L579.15,910.80 L581.48,914.67 L583.80,918.51 L586.13,922.31 L588.46,926.09 L590.79,929.84 L593.12,933.55 L595.45,937.25 L597.78,940.91 L600.11,944.55 L602.44,948.17 L604.77,951.75 L607.10,955.31 L609.42,958.85 L611.75,962.36 L614.08,965.85 L616.41,969.31 L618.74,972.74 L621.07,976.15 L623.40,979.54 L625.73,982.90 L628.06,986.24 L630.39,989.55 L632.71,992.84 L635.04,996.10 L637.37,999.35 L639.70,1002.56 L642.03,1005.76 L644.36,1008.93 L646.69,1012.08 L649.02,1015.20 L651.35,1018.30 L653.68,1021.38 L656.01,1024.44 L658.33,1027.48 L660.66,1030.49 L662.99,1033.48 L665.32,1036.45 L667.65,1039.40 L669.98,1042.32 L672.31,1045.22 L674.64,1048.10 L676.97,1050.95 L679.30,1053.78 L681.62,1056.59 L683.95,1059.37 L686.28,1062.13 L688.61,1064.87 L690.94,1067.58 L693.27,1070.27 L695.60,1072.94 L697.93,1075.58 L700.26,1078.20 L702.59,1080.79 L704.91,1083.36 L707.24,1085.91 L709.57,1088.43 L711.90,1090.93 L714.23,1093.40 L716.56,1095.85 L718.89,1098.27 L721.22,1100.67 L723.55,1103.05 L725.88,1105.41 L728.21,1107.75 L730.53,1110.07 L732.86,1112.36 L735.19,1114.64 L737.52,1116.90 L739.85,1119.14 L742.18,1121.36 L744.51,1123.56 L746.84,1125.74 L749.17,1127.90 L751.50,1130.04 L753.82,1132.16 L756.15,1134.27 L758.48,1136.35 L760.81,1138.41 L763.14,1140.46 L765.47,1142.48 L767.80,1144.49 L770.13,1146.47 L772.46,1148.44 L774.79,1150.39 L777.12,1152.32 L779.44,1154.23 L781.77,1156.13 L784.10,1158.00 L786.43,1159.86 L788.76,1161.70 L791.09,1163.52 L793.42,1165.32 L795.75,1167.10 L798.08,1168.87 L800.41,1170.62 L802.73,1172.35 L805.06,1174.06 L807.39,1175.75 L809.72,1177.43 L812.05,1179.09 L814.38,1180.73 L816.71,1182.36 L819.04,1183.97 L821.37,1185.56 L823.70,1187.13 L826.03,1188.69 L828.35,1190.24 L830.68,1191.76 L833.01,1193.27 L835.34,1194.77 L837.67,1196.25 L840.00,1197.72 L842.33,1199.17 L844.66,1200.61 L846.99,1202.03 L849.32,1203.44 L851.64,1204.83 L853.97,1206.21 L856.30,1207.58 L858.63,1208.93 L860.96,1210.27 L863.29,1211.59 L865.62,1212.90 L867.95,1214.20 L870.28,1215.49 L872.61,1216.76 L874.93,1218.02 L877.26,1219.27 L879.59,1220.51 L881.92,1221.73 L884.25,1222.94 L886.58,1224.14 L888.91,1225.33 L891.24,1226.50 L893.57,1227.67 L895.90,1228.82 L898.23,1229.96 L900.55,1231.09 L902.88,1232.21 L905.21,1233.32 L907.54,1234.42 L909.87,1235.50 L912.20,1236.58 L914.53,1237.64 L916.86,1238.69 L919.19,1239.74 L921.52,1240.77 L923.84,1241.79 L926.17,1242.80 L928.50,1243.80 L930.83,1244.80 L933.16,1245.78 L935.49,1246.75 L937.82,1247.71 L940.15,1248.67 L942.48,1249.61 L944.81,1250.55 L947.14,1251.47 L949.46,1252.39 L951.79,1253.30 L954.12,1254.20 L956.45,1255.09 L958.78,1255.97 L961.11,1256.84 L963.44,1257.71 L965.77,1258.56 L968.10,1259.41 L970.43,1260.25 L972.75,1261.08 L975.08,1261.91 L977.41,1262.72 L979.74,1263.53 L982.07,1264.33 L984.40,1265.12 L986.73,1265.91 L989.06,1266.68 L991.39,1267.45 L993.72,1268.21 L996.05,1268.96 L998.37,1269.70 L1000.70,1270.44 L1003.03,1271.17 L1005.36,1271.89 L1007.69,1272.60 L1010.02,1273.31 L1012.35,1274.01 L1014.68,1274.71 L1017.01,1275.39 L1019.34,1276.07 L1021.66,1276.75 L1023.99,1277.42 L1026.32,1278.08 L1028.65,1278.73 L1030.98,1279.39 L1033.31,1280.03 L1035.64,1280.67 L1037.97,1281.30 L1040.30,1281.93 L1042.63,1282.55 L1044.95,1283.17 L1047.28,1283.78 L1049.61,1284.39 L1051.94,1284.99 L1054.27,1285.58 L1056.60,1286.18 L1058.93,1286.76 L1061.26,1287.35 L1063.59,1287.92 L1065.92,1288.50 L1068.25,1289.07 L1070.57,1289.64 L1072.90,1290.20 L1075.23,1290.76 L1077.56,1291.32 L1079.89,1291.87 L1082.22,1292.41 L1084.55,1292.95 L1086.88,1293.49 L1089.21,1294.02 L1091.54,1294.55 L1093.86,1295.07 L1096.19,1295.58 L1098.52,1296.09 L1100.85,1296.60 L1103.18,1297.09 L1105.51,1297.59 L1107.84,1298.07 L1110.17,1298.55 L1112.50,1299.03 L1114.83,1299.50 L1117.16,1299.96 L1119.48,1300.42 L1121.81,1300.87 L1124.14,1301.31 L1126.47,1301.75 L1128.80,1302.18 L1131.13,1302.61 L1133.46,1303.03 L1135.79,1303.44 L1138.12,1303.85 L1140.45,1304.25 L1142.77,1304.65 L1145.10,1305.04 L1147.43,1305.43 L1149.76,1305.82 L1152.09,1306.20 L1154.42,1306.58 L1156.75,1306.95 L1159.08,1307.32 L1161.41,1307.68 L1163.74,1308.04 L1166.07,1308.40 L1168.39,1308.76 L1170.72,1309.11 L1173.05,1309.45 L1175.38,1309.79 L1177.71,1310.13 L1180.04,1310.47 L1182.37,1310.80 L1184.70,1311.13 L1187.03,1311.45 L1189.36,1311.77 L1191.68,1312.09 L1194.01,1312.40 L1196.34,1312.71 L1198.67,1313.02 L1201.00,1313.32 L1203.33,1313.62 L1205.66,1313.92 L1207.99,1314.21 L1210.32,1314.50 L1212.65,1314.79 L1214.97,1315.07 L1217.30,1315.36 L1219.63,1315.63 L1221.96,1315.91 L1224.29,1316.18 L1226.62,1316.45 L1228.95,1316.71 L1231.28,1316.97 L1233.61,1317.23 L1235.94,1317.49 L1238.27,1317.74 L1240.59,1317.99 L1242.92,1318.24 L1245.25,1318.48 L1247.58,1318.73 L1249.91,1318.97 L1252.24,1319.20 L1254.57,1319.44 L1256.90,1319.67 L1259.23,1319.90 L1261.56,1320.12 L1263.88,1320.35 L1266.21,1320.57 L1268.54,1320.79 L1270.87,1321.01 L1273.20,1321.23 L1275.53,1321.45 L1277.86,1321.66 L1280.19,1321.87 L1282.52,1322.08 L1284.85,1322.29 L1287.18,1322.49 L1289.50,1322.70 L1291.83,1322.90 L1294.16,1323.10 L1296.49,1323.29 L1298.82,1323.49 L1301.15,1323.68 L1303.48,1323.87 L1305.81,1324.06 L1308.14,1324.25 L1310.47,1324.44 L1312.79,1324.62 L1315.12,1324.80 L1317.45,1324.98 L1319.78,1325.16 L1322.11,1325.34 L1324.44,1325.51 L1326.77,1325.68 L1329.10,1325.85 L1331.43,1326.02 L1333.76,1326.19 L1336.09,1326.36 L1338.41,1326.52 L1340.74,1326.68 L1343.07,1326.84 L1345.40,1327.00 L1347.73,1327.15 L1350.06,1327.31 L1352.39,1327.46 L1354.72,1327.61 L1357.05,1327.76 L1359.38,1327.91 L1361.70,1328.06 L1364.03,1328.20 L1366.36,1328.34 L1368.69,1328.48 L1371.02,1328.62 L1373.35,1328.76 L1375.68,1328.89 L1378.01,1329.03 L1380.34,1329.16 L1382.67,1329.29 L1384.99,1329.42 L1387.32,1329.55 L1389.65,1329.68 L1391.98,1329.80 L1394.31,1329.92 L1396.64,1330.04 L1398.97,1330.16 L1401.30,1330.28 L1403.63,1330.40 L1405.96,1330.51 L1408.29,1330.63 L1410.61,1330.74 L1412.94,1330.85 L1415.27,1330.96 L1417.60,1331.07 L1419.93,1331.18 L1422.26,1331.28 L1424.59,1331.39 L1426.92,1331.49 L1429.25,1331.59 L1431.58,1331.70 L1433.90,1331.80 L1436.23,1331.89 L1438.56,1331.99 L1440.89,1332.09 L1443.22,1332.18 L1445.55,1332.28 L1447.88,1332.37 L1450.21,1332.46 L1452.54,1332.56 L1454.87,1332.65 L1457.20,1332.74 L1459.52,1332.83 L1461.85,1332.91 L1464.18,1333.00 L1466.51,1333.09 L1468.84,1333.17 L1471.17,1333.26 L1473.50,1333.34 L1475.83,1333.42 L1478.16,1333.50 L1480.49,1333.59 L1482.81,1333.67 L1485.14,1333.75 L1487.47,1333.82 L1489.80,1333.90 L1492.13,1333.98 L1494.46,1334.06 L1496.79,1334.13 L1499.12,1334.21 L1501.45,1334.28 L1503.78,1334.36 L1506.11,1334.43 L1508.43,1334.51 L1510.76,1334.58 L1513.09,1334.65 L1515.42,1334.72 L1517.75,1334.79 L1520.08,1334.86 L1522.41,1334.93 L1524.74,1335.00 L1527.07,1335.07 L1529.40,1335.14 L1531.72,1335.21 L1534.05,1335.28 L1536.38,1335.34 L1538.71,1335.41 L1541.04,1335.48 L1543.37,1335.54 L1545.70,1335.61 L1548.03,1335.67 L1550.36,1335.74 L1552.69,1335.80 L1555.02,1335.87 L1557.34,1335.93 L1559.67,1335.99 L1562.00,1336.06 L1564.33,1336.12 L1566.66,1336.19 L1568.99,1336.25 L1571.32,1336.31 L1573.65,1336.38 L1575.98,1336.44 L1578.31,1336.50 L1580.63,1336.57 L1582.96,1336.63 L1585.29,1336.69 L1587.62,1336.75 L1589.95,1336.81 L1592.28,1336.87 L1594.61,1336.93 L1596.94,1337.00 L1599.27,1337.06 L1601.60,1337.11 L1603.92,1337.17 L1606.25,1337.23 L1608.58,1337.29 L1610.91,1337.35 L1613.24,1337.41 L1615.57,1337.46 L1617.90,1337.52 L1620.23,1337.58 L1622.56,1337.63 L1624.89,1337.69 L1627.22,1337.74 L1629.54,1337.80 L1631.87,1337.85 L1634.20,1337.90 L1636.53,1337.96 L1638.86,1338.01 L1641.19,1338.06 L1643.52,1338.11 L1645.85,1338.16 L1648.18,1338.21 L1650.51,1338.26 L1652.83,1338.31 L1655.16,1338.36 L1657.49,1338.41 L1659.82,1338.45 L1662.15,1338.50 L1664.48,1338.55 L1666.81,1338.59 L1669.14,1338.64 L1671.47,1338.68 L1673.80,1338.73 L1676.13,1338.77 L1678.45,1338.81 L1680.78,1338.85 L1683.11,1338.89 L1685.44,1338.93 L1687.77,1338.97 L1690.10,1339.01 L1692.43,1339.05 L1694.76,1339.09 L1697.09,1339.13 L1699.42,1339.17 L1701.74,1339.20 L1704.07,1339.24 L1706.40,1339.27 L1708.73,1339.31 L1711.06,1339.34 L1713.39,1339.37 L1715.72,1339.41 L1718.05,1339.44 L1720.38,1339.47 L1722.71,1339.50 L1725.04,1339.53 L1727.36,1339.56 L1729.69,1339.59 L1732.02,1339.62 L1734.35,1339.65 L1736.68,1339.68 L1739.01,1339.70 L1741.34,1339.73 L1743.67,1339.76 L1746.00,1339.78 L1748.33,1339.81 L1750.65,1339.84 L1752.98,1339.86 L1755.31,1339.89 L1757.64,1339.91 L1759.97,1339.93 L1762.30,1339.96 L1764.63,1339.98 L1766.96,1340.00 L1769.29,1340.03 L1771.62,1340.05 L1773.94,1340.07 L1776.27,1340.09 L1778.60,1340.11 L1780.93,1340.13 L1783.26,1340.15 L1785.59,1340.17 L1787.92,1340.19 L1790.25,1340.21 L1792.58,1340.23 L1794.91,1340.25 L1797.24,1340.27 L1799.56,1340.29 L1801.89,1340.31 L1804.22,1340.32 L1806.55,1340.34 L1808.88,1340.36 L1811.21,1340.37 L1813.54,1340.39 L1815.87,1340.41 L1818.20,1340.42 L1820.53,1340.44 L1822.85,1340.46 L1825.18,1340.47 L1827.51,1340.49 L1829.84,1340.50 L1832.17,1340.52 L1834.50,1340.53" stroke="#00ff00" stroke-width="11"/>
<path d="M206.50,58.50 L208.83,65.75 L211.16,72.96 L213.49,80.12 L215.82,87.24 L218.15,94.31 L220.47,101.34 L222.80,108.33 L225.13,115.26 L227.46,122.15 L229.79,128.99 L232.12,135.79 L234.45,142.53 L236.78,149.24 L239.11,155.88 L241.44,162.44 L243.76,168.93 L246.09,175.33 L248.42,181.66 L250.75,187.90 L253.08,194.07 L255.41,200.16 L257.74,206.17 L260.07,212.12 L262.40,218.00 L264.73,223.82 L267.06,229.59 L269.38,235.31 L271.71,240.99 L274.04,246.63 L276.37,252.25 L278.70,257.86 L281.03,263.46 L283.36,269.06 L285.69,274.67 L288.02,280.28 L290.35,285.84 L292.67,291.37 L295.00,296.87 L297.33,302.33 L299.66,307.76 L301.99,313.15 L304.32,318.52 L306.65,323.85 L308.98,329.16 L311.31,334.44 L313.64,339.69 L315.96,344.92 L318.29,350.13 L320.62,355.31 L322.95,360.47 L325.28,365.61 L327.61,370.73 L329.94,375.84 L332.27,380.93 L334.60,386.01 L336.93,391.08 L339.26,396.13 L341.58,401.17 L343.91,406.23 L346.24,411.32 L348.57,416.43 L350.90,421.56 L353.23,426.72 L355.56,431.90 L357.89,437.09 L360.22,442.30 L362.55,447.53 L364.87,452.76 L367.20,458.01 L369.53,463.25 L371.86,468.51 L374.19,473.76 L376.52,479.00 L378.85,484.24 L381.18,489.47 L383.51,494.68 L385.84,499.87 L388.17,505.04 L390.49,510.18 L392.82,515.29 L395.15,520.37 L397.48,525.43 L399.81,530.49 L402.14,535.55 L404.47,540.61 L406.80,545.66 L409.13,550.71 L411.46,555.76 L413.78,560.80 L416.11,565.84 L418.44,570.88 L420.77,575.91 L423.10,580.94 L425.43,585.96 L427.76,590.98 L430.09,595.99 L432.42,601.00 L434.75,606.00 L437.08,610.99 L439.40,615.97 L441.73,620.95 L444.06,625.91 L446.39,630.87 L448.72,635.82 L451.05,640.76 L453.38,645.69 L455.71,650.63 L458.04,655.58 L460.37,660.55 L462.69,665.53 L465.02,670.52 L467.35,675.51 L469.68,680.50 L472.01,685.49 L474.34,690.48 L476.67,695.46 L479.00,700.43 L481.33,705.39 L483.66,710.33 L485.98,715.25 L488.31,720.14 L490.64,725.01 L492.97,729.85 L495.30,734.66 L497.63,739.43 L499.96,744.16 L502.29,748.86 L504.62,753.50 L506.95,758.12 L509.28,762.71 L511.60,767.27 L513.93,771.82 L516.26,776.34 L518.59,780.83 L520.92,785.30 L523.25,789.75 L525.58,794.17 L527.91,798.56 L530.24,802.94 L532.57,807.28 L534.89,811.60 L537.22,815.90 L539.55,820.17 L541.88,824.42 L544.21,828.64 L546.54,832.83 L548.87,837.00 L551.20,841.15 L553.53,845.27 L555.86,849.36 L558.19,853.43 L560.51,857.47 L562.84,861.49 L565.17,865.48 L567.50,869.44 L569.83,873.38 L572.16,877.29 L574.49,881.18 L576.82,885.04 L579.15,888.87 L581.48,892.68 L583.80,896.46 L586.13,900.21 L588.46,903.94 L590.79,907.65 L593.12,911.32 L595.45,914.98 L597.78,918.60 L600.11,922.20 L602.44,925.78 L604.77,929.34 L607.10,932.86 L609.42,936.37 L611.75,939.85 L614.08,943.31 L616.41,946.74 L618.74,950.16 L621.07,953.54 L623.40,956.91 L625.73,960.25 L628.06,963.58 L630.39,966.87 L632.71,970.15 L635.04,973.41 L637.37,976.64 L639.70,979.86 L642.03,983.05 L644.36,986.22 L646.69,989.37 L649.02,992.50 L651.35,995.62 L653.68,998.71 L656.01,1001.78 L658.33,1004.83 L660.66,1007.87 L662.99,1010.88 L665.32,1013.87 L667.65,1016.85 L669.98,1019.80 L672.31,1022.74 L674.64,1025.65 L676.97,1028.54 L679.30,1031.41 L681.62,1034.26 L683.95,1037.09 L686.28,1039.90 L688.61,1042.69 L690.94,1045.45 L693.27,1048.19 L695.60,1050.91 L697.93,1053.61 L700.26,1056.29 L702.59,1058.94 L704.91,1061.57 L707.24,1064.18 L709.57,1066.77 L711.90,1069.33 L714.23,1071.87 L716.56,1074.38 L718.89,1076.88 L721.22,1079.35 L723.55,1081.80 L725.88,1084.23 L728.21,1086.64 L730.53,1089.03 L732.86,1091.41 L735.19,1093.76 L737.52,1096.10 L739.85,1098.41 L742.18,1100.71 L744.51,1102.99 L746.84,1105.25 L749.17,1107.50 L751.50,1109.72 L753.82,1111.93 L756.15,1114.11 L758.48,1116.28 L760.81,1118.43 L763.14,1120.56 L765.47,1122.68 L767.80,1124.77 L770.13,1126.85 L772.46,1128.91 L774.79,1130.95 L777.12,1132.97 L779.44,1134.97 L781.77,1136.96 L784.10,1138.93 L786.43,1140.88 L788.76,1142.81 L791.09,1144.72 L793.42,1146.62 L795.75,1148.50 L798.08,1150.36 L800.41,1152.20 L802.73,1154.03 L805.06,1155.84 L807.39,1157.63 L809.72,1159.41 L812.05,1161.16 L814.38,1162.90 L816.71,1164.63 L819.04,1166.33 L821.37,1168.02 L823.70,1169.70 L826.03,1171.35 L828.35,1173.00 L830.68,1174.63 L833.01,1176.24 L835.34,1177.83 L837.67,1179.42 L840.00,1180.98 L842.33,1182.54 L844.66,1184.08 L846.99,1185.60 L849.32,1187.11 L851.64,1188.60 L853.97,1190.08 L856.30,1191.55 L858.63,1193.00 L860.96,1194.44 L863.29,1195.86 L865.62,1197.27 L867.95,1198.67 L870.28,1200.06 L872.61,1201.43 L874.93,1202.78 L877.26,1204.13 L879.59,1205.46 L881.92,1206.77 L884.25,1208.08 L886.58,1209.37 L888.91,1210.65 L891.24,1211.92 L893.57,1213.17 L895.90,1214.41 L898.23,1215.64 L900.55,1216.86 L902.88,1218.06 L905.21,1219.26 L907.54,1220.44 L909.87,1221.61 L912.20,1222.77 L914.53,1223.91 L916.86,1225.05 L919.19,1226.17 L921.52,1227.29 L923.84,1228.39 L926.17,1229.48 L928.50,1230.56 L930.83,1231.64 L933.16,1232.70 L935.49,1233.75 L937.82,1234.79 L940.15,1235.82 L942.48,1236.84 L944.81,1237.86 L947.14,1238.86 L949.46,1239.85 L951.79,1240.83 L954.12,1241.81 L956.45,1242.77 L958.78,1243.73 L961.11,1244.68 L963.44,1245.62 L965.77,1246.55 L968.10,1247.47 L970.43,1248.38 L972.75,1249.29 L975.08,1250.18 L977.41,1251.07 L979.74,1251.95 L982.07,1252.83 L984.40,1253.69 L986.73,1254.54 L989.06,1255.39 L991.39,1256.23 L993.72,1257.06 L996.05,1257.88 L998.37,1258.69 L1000.70,1259.49 L1003.03,1260.29 L1005.36,1261.08 L1007.69,1261.86 L1010.02,1262.64 L1012.35,1263.40 L1014.68,1264.16 L1017.01,1264.92 L1019.34,1265.67 L1021.66,1266.41 L1023.99,1267.14 L1026.32,1267.87 L1028.65,1268.59 L1030.98,1269.30 L1033.31,1270.01 L1035.64,1270.71 L1037.97,1271.41 L1040.30,1272.10 L1042.63,1272.79 L1044.95,1273.47 L1047.28,1274.14 L1049.61,1274.81 L1051.94,1275.48 L1054.27,1276.14 L1056.60,1276.79 L1058.93,1277.45 L1061.26,1278.09 L1063.59,1278.73 L1065.92,1279.37 L1068.25,1280.01 L1070.57,1280.64 L1072.90,1281.26 L1075.23,1281.89 L1077.56,1282.50 L1079.89,1283.12 L1082.22,1283.72 L1084.55,1284.33 L1086.88,1284.93 L1089.21,1285.52 L1091.54,1286.11 L1093.86,1286.69 L1096.19,1287.26 L1098.52,1287.83 L1100.85,1288.40 L1103.18,1288.96 L1105.51,1289.51 L1107.84,1290.06 L1110.17,1290.60 L1112.50,1291.13 L1114.83,1291.66 L1117.16,1292.18 L1119.48,1292.69 L1121.81,1293.20 L1124.14,1293.70 L1126.47,1294.19 L1128.80,1294.68 L1131.13,1295.16 L1133.46,1295.63 L1135.79,1296.10 L1138.12,1296.56 L1140.45,1297.01 L1142.77,1297.46 L1145.10,1297.90 L1147.43,1298.34 L1149.76,1298.78 L1152.09,1299.21 L1154.42,1299.64 L1156.75,1300.06 L1159.08,1300.48 L1161.41,1300.89 L1163.74,1301.30 L1166.07,1301.71 L1168.39,1302.11 L1170.72,1302.50 L1173.05,1302.90 L1175.38,1303.29 L1177.71,1303.67 L1180.04,1304.05 L1182.37,1304.43 L1184.70,1304.80 L1187.03,1305.17 L1189.36,1305.54 L1191.68,1305.90 L1194.01,1306.26 L1196.34,1306.61 L1198.67,1306.96 L1201.00,1307.31 L1203.33,1307.65 L1205.66,1307.99 L1207.99,1308.33 L1210.32,1308.66 L1212.65,1308.99 L1214.97,1309.31 L1217.30,1309.63 L1219.63,1309.95 L1221.96,1310.27 L1224.29,1310.58 L1226.62,1310.89 L1228.95,1311.19 L1231.28,1311.50 L1233.61,1311.79 L1235.94,1312.09 L1238.27,1312.38 L1240.59,1312.67 L1242.92,1312.96 L1245.25,1313.24 L1247.58,1313.52 L1249.91,1313.80 L1252.24,1314.08 L1254.57,1314.35 L1256.90,1314.62 L1259.23,1314.88 L1261.56,1315.15 L1263.88,1315.41 L1266.21,1315.67 L1268.54,1315.93 L1270.87,1316.19 L1273.20,1316.44 L1275.53,1316.69 L1277.86,1316.94 L1280.19,1317.19 L1282.52,1317.43 L1284.85,1317.68 L1287.18,1317.92 L1289.50,1318.16 L1291.83,1318.39 L1294.16,1318.63 L1296.49,1318.86 L1298.82,1319.09 L1301.15,1319.31 L1303.48,1319.54 L1305.81,1319.76 L1308.14,1319.98 L1310.47,1320.20 L1312.79,1320.42 L1315.12,1320.63 L1317.45,1320.84 L1319.78,1321.05 L1322.11,1321.26 L1324.44,1321.47 L1326.77,1321.67 L1329.10,1321.87 L1331.43,1322.07 L1333.76,1322.27 L1336.09,1322.46 L1338.41,1322.66 L1340.74,1322.85 L1343.07,1323.04 L1345.40,1323.22 L1347.73,1323.41 L1350.06,1323.59 L1352.39,1323.77 L1354.72,1323.95 L1357.05,1324.13 L1359.38,1324.30 L1361.70,1324.47 L1364.03,1324.64 L1366.36,1324.81 L1368.69,1324.98 L1371.02,1325.14 L1373.35,1325.30 L1375.68,1325.47 L1378.01,1325.62 L1380.34,1325.78 L1382.67,1325.94 L1384.99,1326.09 L1387.32,1326.24 L1389.65,1326.39 L1391.98,1326.54 L1394.31,1326.68 L1396.64,1326.82 L1398.97,1326.97 L1401.30,1327.11 L1403.63,1327.24 L1405.96,1327.38 L1408.29,1327.52 L1410.61,1327.65 L1412.94,1327.78 L1415.27,1327.92 L1417.60,1328.05 L1419.93,1328.18 L1422.26,1328.30 L1424.59,1328.43 L1426.92,1328.56 L1429.25,1328.68 L1431.58,1328.80 L1433.90,1328.93 L1436.23,1329.05 L1438.56,1329.17 L1440.89,1329.28 L1443.22,1329.40 L1445.55,1329.52 L1447.88,1329.63 L1450.21,1329.75 L1452.54,1329.86 L1454.87,1329.97 L1457.20,1330.09 L1459.52,1330.20 L1461.85,1330.30 L1464.18,1330.41 L1466.51,1330.52 L1468.84,1330.63 L1471.17,1330.73 L1473.50,1330.84 L1475.83,1330.94 L1478.16,1331.04 L1480.49,1331.15 L1482.81,1331.25 L1485.14,1331.35 L1487.47,1331.45 L1489.80,1331.55 L1492.13,1331.65 L1494.46,1331.74 L1496.79,1331.84 L1499.12,1331.94 L1501.45,1332.03 L1503.78,1332.13 L1506.11,1332.22 L1508.43,1332.31 L1510.76,1332.40 L1513.09,1332.50 L1515.42,1332.59 L1517.75,1332.68 L1520.08,1332.77 L1522.41,1332.86 L1524.74,1332.94 L1527.07,1333.03 L1529.40,1333.12 L1531.72,1333.20 L1534.05,1333.29 L1536.38,1333.38 L1538.71,1333.46 L1541.04,1333.54 L1543.37,1333.63 L1545.70,1333.71 L1548.03,1333.79 L1550.36,1333.88 L1552.69,1333.96 L1555.02,1334.04 L1557.34,1334.12 L1559.67,1334.20 L1562.00,1334.28 L1564.33,1334.37 L1566.66,1334.45 L1568.99,1334.53 L1571.32,1334.61 L1573.65,1334.69 L1575.98,1334.77 L1578.31,1334.85 L1580.63,1334.94 L1582.96,1335.02 L1585.29,1335.10 L1587.62,1335.18 L1589.95,1335.26 L1592.28,1335.34 L1594.61,1335.42 L1596.94,1335.49 L1599.27,1335.57 L1601.60,1335.65 L1603.92,1335.73 L1606.25,1335.80 L1608.58,1335.88 L1610.91,1335.96 L1613.24,1336.03 L1615.57,1336.11 L1617.90,1336.18 L1620.23,1336.25 L1622.56,1336.33 L1624.89,1336.40 L1627.22,1336.47 L1629.54,1336.54 L1631.87,1336.61 L1634.20,1336.68 L1636.53,1336.75 L1638.86,1336.82 L1641.19,1336.89 L1643.52,1336.96 L1645.85,1337.02 L1648.18,1337.09 L1650.51,1337.15 L1652.83,1337.22 L1655.16,1337.28 L1657.49,1337.34 L1659.82,1337.41 L1662.15,1337.47 L1664.48,1337.53 L1666.81,1337.59 L1669.14,1337.65 L1671.47,1337.71 L1673.80,1337.76 L1676.13,1337.82 L1678.45,1337.87 L1680.78,1337.93 L1683.11,1337.98 L1685.44,1338.04 L1687.77,1338.09 L1690.10,1338.14 L1692.43,1338.19 L1694.76,1338.24 L1697.09,1338.29 L1699.42,1338.34 L1701.74,1338.39 L1704.07,1338.43 L1706.40,1338.48 L1708.73,1338.53 L1711.06,1338.57 L1713.39,1338.61 L1715.72,1338.66 L1718.05,1338.70 L1720.38,1338.74 L1722.71,1338.78 L1725.04,1338.82 L1727.36,1338.86 L1729.69,1338.90 L1732.02,1338.94 L1734.35,1338.97 L1736.68,1339.01 L1739.01,1339.05 L1741.34,1339.08 L1743.67,1339.12 L1746.00,1339.15 L1748.33,1339.19 L1750.65,1339.22 L1752.98,1339.26 L1755.31,1339.29 L1757.64,1339.32 L1759.97,1339.36 L1762.30,1339.39 L1764.63,1339.42 L1766.96,1339.45 L1769.29,1339.48 L1771.62,1339.51 L1773.94,1339.54 L1776.27,1339.57 L1778.60,1339.60 L1780.93,1339.63 L1783.26,1339.66 L1785.59,1339.69 L1787.92,1339.71 L1790.25,1339.74 L1792.58,1339.77 L1794.91,1339.79 L1797.24,1339.82 L1799.56,1339.85 L1801.89,1339.87 L1804.22,1339.90 L1806.55,1339.92 L1808.88,1339.95 L1811.21,1339.97 L1813.54,1340.00 L1815.87,1340.02 L1818.20,1340.04 L1820.53,1340.07 L1822.85,1340.09 L1825.18,1340.11 L1827.51,1340.13 L1829.84,1340.16 L1832.17,1340.18 L1834.50,1340.20" stroke="#00ff00" stroke-width="11"/>
<path d="M206.50,58.50 L208.83,66.59 L211.16,74.62 L213.49,82.58 L215.82,90.46 L218.15,98.28 L220.47,106.02 L222.80,113.70 L225.13,121.30 L227.46,128.84 L229.79,136.30 L232.12,143.70 L234.45,151.02 L236.78,158.26 L239.11,165.42 L241.44,172.49 L243.76,179.47 L246.09,186.37 L248.42,193.19 L250.75,199.93 L253.08,206.60 L255.41,213.20 L257.74,219.73 L260.07,226.20 L262.40,232.62 L264.73,239.00 L267.06,245.34 L269.38,251.64 L271.71,257.93 L274.04,264.20 L276.37,270.48 L278.70,276.73 L281.03,282.93 L283.36,289.09 L285.69,295.21 L288.02,301.29 L290.35,307.32 L292.67,313.32 L295.00,319.29 L297.33,325.22 L299.66,331.11 L301.99,336.98 L304.32,342.81 L306.65,348.62 L308.98,354.41 L311.31,360.17 L313.64,365.91 L315.96,371.63 L318.29,377.34 L320.62,383.03 L322.95,388.71 L325.28,394.39 L327.61,400.10 L329.94,405.82 L332.27,411.56 L334.60,417.32 L336.93,423.09 L339.26,428.88 L341.58,434.68 L343.91,440.49 L346.24,446.31 L348.57,452.14 L350.90,457.97 L353.23,463.79 L355.56,469.62 L357.89,475.45 L360.22,481.26 L362.55,487.07 L364.87,492.86 L367.20,498.63 L369.53,504.39 L371.86,510.11 L374.19,515.82 L376.52,521.53 L378.85,527.28 L381.18,533.07 L383.51,538.88 L385.84,544.73 L388.17,550.61 L390.49,556.50 L392.82,562.42 L395.15,568.35 L397.48,574.29 L399.81,580.24 L402.14,586.19 L404.47,592.15 L406.80,598.09 L409.13,604.04 L411.46,609.96 L413.78,615.88 L416.11,621.77 L418.44,627.63 L420.77,633.47 L423.10,639.27 L425.43,645.06 L427.76,650.87 L430.09,656.68 L432.42,662.49 L434.75,668.31 L437.08,674.12 L439.40,679.92 L441.73,685.72 L444.06,691.50 L446.39,697.26 L448.72,703.00 L451.05,708.71 L453.38,714.40 L455.71,720.06 L458.04,725.68 L460.37,731.26 L462.69,736.80 L465.02,742.29 L467.35,747.75 L469.68,753.17 L472.01,758.57 L474.34,763.93 L476.67,769.26 L479.00,774.56 L481.33,779.83 L483.66,785.07 L485.98,790.28 L488.31,795.46 L490.64,800.61 L492.97,805.73 L495.30,810.82 L497.63,815.88 L499.96,820.92 L502.29,825.93 L504.62,830.91 L506.95,835.86 L509.28,840.79 L511.60,845.69 L513.93,850.56 L516.26,855.41 L518.59,860.23 L520.92,865.03 L523.25,869.80 L525.58,874.54 L527.91,879.27 L530.24,883.98 L532.57,888.66 L534.89,893.33 L537.22,897.97 L539.55,902.59 L541.88,907.18 L544.21,911.74 L546.54,916.28 L548.87,920.79 L551.20,925.26 L553.53,929.71 L555.86,934.12 L558.19,938.50 L560.51,942.85 L562.84,947.16 L565.17,951.43 L567.50,955.67 L569.83,959.86 L572.16,964.02 L574.49,968.14 L576.82,972.21 L579.15,976.25 L581.48,980.24 L583.80,984.18 L586.13,988.08 L588.46,991.94 L590.79,995.75 L593.12,999.53 L595.45,1003.27 L597.78,1006.99 L600.11,1010.67 L602.44,1014.32 L604.77,1017.95 L607.10,1021.54 L609.42,1025.10 L611.75,1028.62 L614.08,1032.12 L616.41,1035.59 L618.74,1039.02 L621.07,1042.43 L623.40,1045.80 L625.73,1049.14 L628.06,1052.46 L630.39,1055.74 L632.71,1058.99 L635.04,1062.20 L637.37,1065.39 L639.70,1068.55 L642.03,1071.67 L644.36,1074.77 L646.69,1077.83 L649.02,1080.87 L651.35,1083.87 L653.68,1086.85 L656.01,1089.79 L658.33,1092.70 L660.66,1095.58 L662.99,1098.43 L665.32,1101.26 L667.65,1104.05 L669.98,1106.81 L672.31,1109.54 L674.64,1112.24 L676.97,1114.92 L679.30,1117.56 L681.62,1120.18 L683.95,1122.76 L686.28,1125.32 L688.61,1127.84 L690.94,1130.34 L693.27,1132.81 L695.60,1135.26 L697.93,1137.67 L700.26,1140.05 L702.59,1142.41 L704.91,1144.74 L707.24,1147.04 L709.57,1149.31 L711.90,1151.56 L714.23,1153.78 L716.56,1155.97 L718.89,1158.14 L721.22,1160.28 L723.55,1162.40 L725.88,1164.49 L728.21,1166.56 L730.53,1168.61 L732.86,1170.64 L735.19,1172.64 L737.52,1174.62 L739.85,1176.58 L742.18,1178.52 L744.51,1180.44 L746.84,1182.33 L749.17,1184.21 L751.50,1186.06 L753.82,1187.89 L756.15,1189.70 L758.48,1191.49 L760.81,1193.25 L763.14,1195.00 L765.47,1196.73 L767.80,1198.43 L770.13,1200.12 L772.46,1201.78 L774.79,1203.43 L777.12,1205.06 L779.44,1206.67 L781.77,1208.25 L784.10,1209.82 L786.43,1211.37 L788.76,1212.90 L791.09,1214.41 L793.42,1215.91 L795.75,1217.38 L798.08,1218.84 L800.41,1220.28 L802.73,1221.70 L805.06,1223.10 L807.39,1224.49 L809.72,1225.86 L812.05,1227.21 L814.38,1228.54 L816.71,1229.86 L819.04,1231.16 L821.37,1232.44 L823.70,1233.71 L826.03,1234.96 L828.35,1236.19 L830.68,1237.41 L833.01,1238.61 L835.34,1239.80 L837.67,1240.97 L840.00,1242.13 L842.33,1243.27 L844.66,1244.40 L846.99,1245.52 L849.32,1246.62 L851.64,1247.71 L853.97,1248.78 L856.30,1249.85 L858.63,1250.90 L860.96,1251.94 L863.29,1252.97 L865.62,1253.98 L867.95,1254.99 L870.28,1255.98 L872.61,1256.96 L874.93,1257.94 L877.26,1258.90 L879.59,1259.85 L881.92,1260.79 L884.25,1261.72 L886.58,1262.65 L888.91,1263.56 L891.24,1264.47 L893.57,1265.36 L895.90,1266.25 L898.23,1267.13 L900.55,1268.00 L902.88,1268.86 L905.21,1269.71 L907.54,1270.56 L909.87,1271.39 L912.20,1272.21 L914.53,1273.03 L916.86,1273.84 L919.19,1274.63 L921.52,1275.42 L923.84,1276.20 L926.17,1276.98 L928.50,1277.74 L930.83,1278.50 L933.16,1279.24 L935.49,1279.98 L937.82,1280.71 L940.15,1281.44 L942.48,1282.15 L944.81,1282.86 L947.14,1283.56 L949.46,1284.25 L951.79,1284.93 L954.12,1285.61 L956.45,1286.28 L958.78,1286.94 L961.11,1287.59 L963.44,1288.24 L965.77,1288.88 L968.10,1289.51 L970.43,1290.14 L972.75,1290.75 L975.08,1291.36 L977.41,1291.97 L979.74,1292.57 L982.07,1293.16 L984.40,1293.74 L986.73,1294.32 L989.06,1294.89 L991.39,1295.45 L993.72,1296.01 L996.05,1296.56 L998.37,1297.11 L1000.70,1297.64 L1003.03,1298.18 L1005.36,1298.70 L1007.69,1299.22 L1010.02,1299.74 L1012.35,1300.25 L1014.68,1300.75 L1017.01,1301.25 L1019.34,1301.74 L1021.66,1302.23 L1023.99,1302.71 L1026.32,1303.18 L1028.65,1303.65 L1030.98,1304.12 L1033.31,1304.58 L1035.64,1305.04 L1037.97,1305.49 L1040.30,1305.93 L1042.63,1306.37 L1044.95,1306.81 L1047.28,1307.24 L1049.61,1307.67 L1051.94,1308.10 L1054.27,1308.51 L1056.60,1308.93 L1058.93,1309.34 L1061.26,1309.75 L1063.59,1310.15 L1065.92,1310.55 L1068.25,1310.95 L1070.57,1311.34 L1072.90,1311.73 L1075.23,1312.11 L1077.56,1312.50 L1079.89,1312.87 L1082.22,1313.25 L1084.55,1313.62 L1086.88,1313.98 L1089.21,1314.35 L1091.54,1314.70 L1093.86,1315.06 L1096.19,1315.41 L1098.52,1315.75 L1100.85,1316.09 L1103.18,1316.43 L1105.51,1316.76 L1107.84,1317.09 L1110.17,1317.41 L1112.50,1317.73 L1114.83,1318.04 L1117.16,1318.35 L1119.48,1318.66 L1121.81,1318.96 L1124.14,1319.25 L1126.47,1319.54 L1128.80,1319.83 L1131.13,1320.11 L1133.46,1320.38 L1135.79,1320.66 L1138.12,1320.92 L1140.45,1321.19 L1142.77,1321.45 L1145.10,1321.71 L1147.43,1321.96 L1149.76,1322.21 L1152.09,1322.46 L1154.42,1322.71 L1156.75,1322.95 L1159.08,1323.19 L1161.41,1323.43 L1163.74,1323.66 L1166.07,1323.90 L1168.39,1324.12 L1170.72,1324.35 L1173.05,1324.57 L1175.38,1324.79 L1177.71,1325.01 L1180.04,1325.23 L1182.37,1325.44 L1184.70,1325.65 L1187.03,1325.86 L1189.36,1326.06 L1191.68,1326.26 L1194.01,1326.46 L1196.34,1326.66 L1198.67,1326.85 L1201.00,1327.05 L1203.33,1327.23 L1205.66,1327.42 L1207.99,1327.61 L1210.32,1327.79 L1212.65,1327.97 L1214.97,1328.14 L1217.30,1328.32 L1219.63,1328.49 L1221.96,1328.66 L1224.29,1328.83 L1226.62,1328.99 L1228.95,1329.16 L1231.28,1329.32 L1233.61,1329.47 L1235.94,1329.63 L1238.27,1329.79 L1240.59,1329.94 L1242.92,1330.09 L1245.25,1330.23 L1247.58,1330.38 L1249.91,1330.52 L1252.24,1330.67 L1254.57,1330.80 L1256.90,1330.94 L1259.23,1331.08 L1261.56,1331.21 L1263.88,1331.35 L1266.21,1331.48 L1268.54,1331.61 L1270.87,1331.74 L1273.20,1331.87 L1275.53,1331.99 L1277.86,1332.12 L1280.19,1332.24 L1282.52,1332.36 L1284.85,1332.49 L1287.18,1332.61 L1289.50,1332.72 L1291.83,1332.84 L1294.16,1332.96 L1296.49,1333.07 L1298.82,1333.18 L1301.15,1333.29 L1303.48,1333.41 L1305.81,1333.51 L1308.14,1333.62 L1310.47,1333.73 L1312.79,1333.83 L1315.12,1333.94 L1317.45,1334.04 L1319.78,1334.14 L1322.11,1334.24 L1324.44,1334.34 L1326.77,1334.44 L1329.10,1334.54 L1331.43,1334.64 L1333.76,1334.73 L1336.09,1334.82 L1338.41,1334.92 L1340.74,1335.01 L1343.07,1335.10 L1345.40,1335.19 L1347.73,1335.28 L1350.06,1335.37 L1352.39,1335.45 L1354.72,1335.54 L1357.05,1335.62 L1359.38,1335.70 L1361.70,1335.79 L1364.03,1335.87 L1366.36,1335.95 L1368.69,1336.03 L1371.02,1336.11 L1373.35,1336.18 L1375.68,1336.26 L1378.01,1336.34 L1380.34,1336.41 L1382.67,1336.49 L1384.99,1336.56 L1387.32,1336.63 L1389.65,1336.70 L1391.98,1336.77 L1394.31,1336.84 L1396.64,1336.91 L1398.97,1336.98 L1401.30,1337.04 L1403.63,1337.11 L1405.96,1337.17 L1408.29,1337.24 L1410.61,1337.30 L1412.94,1337.36 L1415.27,1337.42 L1417.60,1337.48 L1419.93,1337.53 L1422.26,1337.59 L1424.59,1337.64 L1426.92,1337.70 L1429.25,1337.75 L1431.58,1337.80 L1433.90,1337.85 L1436.23,1337.90 L1438.56,1337.95 L1440.89,1338.00 L1443.22,1338.05 L1445.55,1338.10 L1447.88,1338.14 L1450.21,1338.19 L1452.54,1338.23 L1454.87,1338.28 L1457.20,1338.32 L1459.52,1338.36 L1461.85,1338.40 L1464.18,1338.44 L1466.51,1338.49 L1468.84,1338.53 L1471.17,1338.56 L1473.50,1338.60 L1475.83,1338.64 L1478.16,1338.68 L1480.49,1338.72 L1482.81,1338.75 L1485.14,1338.79 L1487.47,1338.83 L1489.80,1338.86 L1492.13,1338.90 L1494.46,1338.93 L1496.79,1338.97 L1499.12,1339.00 L1501.45,1339.03 L1503.78,1339.07 L1506.11,1339.10 L1508.43,1339.13 L1510.76,1339.16 L1513.09,1339.20 L1515.42,1339.23 L1517.75,1339.26 L1520.08,1339.29 L1522.41,1339.32 L1524.74,1339.35 L1527.07,1339.38 L1529.40,1339.41 L1531.72,1339.44 L1534.05,1339.47 L1536.38,1339.50 L1538.71,1339.53 L1541.04,1339.56 L1543.37,1339.59 L1545.70,1339.62 L1548.03,1339.65 L1550.36,1339.68 L1552.69,1339.71 L1555.02,1339.73 L1557.34,1339.76 L1559.67,1339.79 L1562.00,1339.82 L1564.33,1339.85 L1566.66,1339.87 L1568.99,1339.90 L1571.32,1339.93 L1573.65,1339.95 L1575.98,1339.98 L1578.31,1340.01 L1580.63,1340.03 L1582.96,1340.06 L1585.29,1340.08 L1587.62,1340.11 L1589.95,1340.13 L1592.28,1340.16 L1594.61,1340.18 L1596.94,1340.20 L1599.27,1340.23 L1601.60,1340.25 L1603.92,1340.27 L1606.25,1340.30 L1608.58,1340.32 L1610.91,1340.34 L1613.24,1340.36 L1615.57,1340.38 L1617.90,1340.41 L1620.23,1340.43 L1622.56,1340.45 L1624.89,1340.47 L1627.22,1340.49 L1629.54,1340.51 L1631.87,1340.53 L1634.20,1340.55 L1636.53,1340.57 L1638.86,1340.59 L1641.19,1340.61 L1643.52,1340.63 L1645.85,1340.65 L1648.18,1340.66 L1650.51,1340.68 L1652.83,1340.70 L1655.16,1340.72 L1657.49,1340.74 L1659.82,1340.75 L1662.15,1340.77 L1664.48,1340.79 L1666.81,1340.80 L1669.14,1340.82 L1671.47,1340.84 L1673.80,1340.85 L1676.13,1340.87 L1678.45,1340.88 L1680.78,1340.90 L1683.11,1340.91 L1685.44,1340.93 L1687.77,1340.94 L1690.10,1340.96 L1692.43,1340.97 L1694.76,1340.98 L1697.09,1341.00 L1699.42,1341.01 L1701.74,1341.02 L1704.07,1341.04 L1706.40,1341.05 L1708.73,1341.06 L1711.06,1341.07 L1713.39,1341.09 L1715.72,1341.10 L1718.05,1341.11 L1720.38,1341.12 L1722.71,1341.13 L1725.04,1341.14 L1727.36,1341.15 L1729.69,1341.16 L1732.02,1341.17 L1734.35,1341.18 L1736.68,1341.19 L1739.01,1341.20 L1741.34,1341.20 L1743.67,1341.21 L1746.00,1341.22 L1748.33,1341.23 L1750.65,1341.23 L1752.98,1341.24 L1755.31,1341.25 L1757.64,1341.25 L1759.97,1341.26 L1762.30,1341.26 L1764.63,1341.27 L1766.96,1341.27 L1769.29,1341.28 L1771.62,1341.28 L1773.94,1341.28 L1776.27,1341.29 L1778.60,1341.29 L1780.93,1341.29 L1783.26,1341.30 L1785.59,1341.30 L1787.92,1341.30 L1790.25,1341.31 L1792.58,1341.31 L1794.91,1341.31 L1797.24,1341.31 L1799.56,1341.31 L1801.89,1341.31 L1804.22,1341.32 L1806.55,1341.32 L1808.88,1341.32 L1811.21,1341.32 L1813.54,1341.32 L1815.87,1341.32 L1818.20,1341.32 L1820.53,1341.32 L1822.85,1341.32 L1825.18,1341.32 L1827.51,1341.32 L1829.84,1341.32 L1832.17,1341.32 L1834.50,1341.32" stroke="#ff0000" stroke-width="11" stroke-dasharray="37.5 37.5"/>
<path d="M206.50,58.50 L208.83,66.15 L211.16,73.74 L213.49,81.27 L215.82,88.75 L218.15,96.17 L220.47,103.54 L222.80,110.84 L225.13,118.09 L227.46,125.27 L229.79,132.40 L232.12,139.47 L234.45,146.49 L236.78,153.44 L239.11,160.31 L241.44,167.11 L243.76,173.82 L246.09,180.45 L248.42,187.00 L250.75,193.47 L253.08,199.87 L255.41,206.19 L257.74,212.45 L260.07,218.64 L262.40,224.78 L264.73,230.86 L267.06,236.90 L269.38,242.90 L271.71,248.87 L274.04,254.81 L276.37,260.75 L278.70,266.67 L281.03,272.55 L283.36,278.42 L285.69,284.28 L288.02,290.10 L290.35,295.89 L292.67,301.64 L295.00,307.36 L297.33,313.04 L299.66,318.69 L301.99,324.31 L304.32,329.90 L306.65,335.46 L308.98,341.00 L311.31,346.51 L313.64,352.00 L315.96,357.46 L318.29,362.91 L320.62,368.34 L322.95,373.75 L325.28,379.16 L327.61,384.57 L329.94,389.98 L332.27,395.40 L334.60,400.81 L336.93,406.23 L339.26,411.65 L341.58,417.08 L343.91,422.52 L346.24,427.97 L348.57,433.44 L350.90,438.92 L353.23,444.42 L355.56,449.92 L357.89,455.43 L360.22,460.94 L362.55,466.46 L364.87,471.97 L367.20,477.48 L369.53,482.98 L371.86,488.47 L374.19,493.94 L376.52,499.42 L378.85,504.92 L381.18,510.43 L383.51,515.95 L385.84,521.47 L388.17,527.00 L390.49,532.53 L392.82,538.06 L395.15,543.58 L397.48,549.10 L399.81,554.62 L402.14,560.14 L404.47,565.67 L406.80,571.19 L409.13,576.70 L411.46,582.21 L413.78,587.71 L416.11,593.20 L418.44,598.67 L420.77,604.13 L423.10,609.56 L425.43,614.99 L427.76,620.42 L430.09,625.86 L432.42,631.30 L434.75,636.73 L437.08,642.16 L439.40,647.58 L441.73,652.99 L444.06,658.40 L446.39,663.79 L448.72,669.16 L451.05,674.52 L453.38,679.86 L455.71,685.19 L458.04,690.50 L460.37,695.80 L462.69,701.09 L465.02,706.35 L467.35,711.60 L469.68,716.82 L472.01,722.04 L474.34,727.23 L476.67,732.41 L479.00,737.56 L481.33,742.69 L483.66,747.80 L485.98,752.88 L488.31,757.94 L490.64,762.97 L492.97,767.97 L495.30,772.94 L497.63,777.88 L499.96,782.78 L502.29,787.66 L504.62,792.50 L506.95,797.31 L509.28,802.09 L511.60,806.85 L513.93,811.59 L516.26,816.30 L518.59,820.99 L520.92,825.65 L523.25,830.29 L525.58,834.90 L527.91,839.50 L530.24,844.07 L532.57,848.62 L534.89,853.15 L537.22,857.65 L539.55,862.13 L541.88,866.59 L544.21,871.02 L546.54,875.43 L548.87,879.80 L551.20,884.15 L553.53,888.48 L555.86,892.77 L558.19,897.03 L560.51,901.27 L562.84,905.47 L565.17,909.64 L567.50,913.79 L569.83,917.89 L572.16,921.97 L574.49,926.01 L576.82,930.02 L579.15,933.99 L581.48,937.93 L583.80,941.83 L586.13,945.70 L588.46,949.52 L590.79,953.32 L593.12,957.08 L595.45,960.81 L597.78,964.52 L600.11,968.20 L602.44,971.85 L604.77,975.47 L607.10,979.07 L609.42,982.64 L611.75,986.18 L614.08,989.69 L616.41,993.18 L618.74,996.63 L621.07,1000.07 L623.40,1003.47 L625.73,1006.85 L628.06,1010.20 L630.39,1013.52 L632.71,1016.82 L635.04,1020.09 L637.37,1023.34 L639.70,1026.55 L642.03,1029.75 L644.36,1032.91 L646.69,1036.05 L649.02,1039.16 L651.35,1042.25 L653.68,1045.31 L656.01,1048.35 L658.33,1051.36 L660.66,1054.34 L662.99,1057.30 L665.32,1060.24 L667.65,1063.14 L669.98,1066.03 L672.31,1068.88 L674.64,1071.71 L676.97,1074.52 L679.30,1077.30 L681.62,1080.05 L683.95,1082.78 L686.28,1085.48 L688.61,1088.16 L690.94,1090.81 L693.27,1093.43 L695.60,1096.03 L697.93,1098.60 L700.26,1101.15 L702.59,1103.67 L704.91,1106.16 L707.24,1108.63 L709.57,1111.07 L711.90,1113.49 L714.23,1115.88 L716.56,1118.25 L718.89,1120.59 L721.22,1122.91 L723.55,1125.20 L725.88,1127.48 L728.21,1129.73 L730.53,1131.96 L732.86,1134.17 L735.19,1136.36 L737.52,1138.52 L739.85,1140.67 L742.18,1142.80 L744.51,1144.90 L746.84,1146.99 L749.17,1149.05 L751.50,1151.09 L753.82,1153.12 L756.15,1155.12 L758.48,1157.10 L760.81,1159.06 L763.14,1161.01 L765.47,1162.93 L767.80,1164.83 L770.13,1166.72 L772.46,1168.58 L774.79,1170.43 L777.12,1172.25 L779.44,1174.06 L781.77,1175.84 L784.10,1177.61 L786.43,1179.36 L788.76,1181.09 L791.09,1182.80 L793.42,1184.50 L795.75,1186.17 L798.08,1187.83 L800.41,1189.47 L802.73,1191.09 L805.06,1192.69 L807.39,1194.28 L809.72,1195.84 L812.05,1197.39 L814.38,1198.92 L816.71,1200.44 L819.04,1201.94 L821.37,1203.42 L823.70,1204.88 L826.03,1206.33 L828.35,1207.76 L830.68,1209.18 L833.01,1210.57 L835.34,1211.96 L837.67,1213.33 L840.00,1214.68 L842.33,1216.02 L844.66,1217.34 L846.99,1218.65 L849.32,1219.95 L851.64,1221.23 L853.97,1222.50 L856.30,1223.75 L858.63,1225.00 L860.96,1226.22 L863.29,1227.44 L865.62,1228.64 L867.95,1229.83 L870.28,1231.01 L872.61,1232.18 L874.93,1233.33 L877.26,1234.47 L879.59,1235.61 L881.92,1236.73 L884.25,1237.83 L886.58,1238.93 L888.91,1240.02 L891.24,1241.10 L893.57,1242.16 L895.90,1243.22 L898.23,1244.26 L900.55,1245.30 L902.88,1246.33 L905.21,1247.34 L907.54,1248.35 L909.87,1249.34 L912.20,1250.32 L914.53,1251.30 L916.86,1252.26 L919.19,1253.22 L921.52,1254.16 L923.84,1255.09 L926.17,1256.02 L928.50,1256.93 L930.83,1257.84 L933.16,1258.74 L935.49,1259.63 L937.82,1260.50 L940.15,1261.37 L942.48,1262.24 L944.81,1263.09 L947.14,1263.93 L949.46,1264.77 L951.79,1265.59 L954.12,1266.41 L956.45,1267.22 L958.78,1268.02 L961.11,1268.82 L963.44,1269.60 L965.77,1270.38 L968.10,1271.15 L970.43,1271.91 L972.75,1272.66 L975.08,1273.41 L977.41,1274.15 L979.74,1274.88 L982.07,1275.60 L984.40,1276.32 L986.73,1277.03 L989.06,1277.73 L991.39,1278.42 L993.72,1279.11 L996.05,1279.79 L998.37,1280.46 L1000.70,1281.12 L1003.03,1281.78 L1005.36,1282.43 L1007.69,1283.07 L1010.02,1283.71 L1012.35,1284.34 L1014.68,1284.96 L1017.01,1285.58 L1019.34,1286.19 L1021.66,1286.80 L1023.99,1287.39 L1026.32,1287.99 L1028.65,1288.58 L1030.98,1289.16 L1033.31,1289.74 L1035.64,1290.31 L1037.97,1290.87 L1040.30,1291.43 L1042.63,1291.99 L1044.95,1292.54 L1047.28,1293.08 L1049.61,1293.62 L1051.94,1294.16 L1054.27,1294.69 L1056.60,1295.22 L1058.93,1295.74 L1061.26,1296.25 L1063.59,1296.77 L1065.92,1297.28 L1068.25,1297.78 L1070.57,1298.28 L1072.90,1298.78 L1075.23,1299.28 L1077.56,1299.77 L1079.89,1300.25 L1082.22,1300.73 L1084.55,1301.21 L1086.88,1301.68 L1089.21,1302.15 L1091.54,1302.61 L1093.86,1303.07 L1096.19,1303.52 L1098.52,1303.97 L1100.85,1304.41 L1103.18,1304.85 L1105.51,1305.28 L1107.84,1305.71 L1110.17,1306.13 L1112.50,1306.54 L1114.83,1306.95 L1117.16,1307.36 L1119.48,1307.76 L1121.81,1308.15 L1124.14,1308.54 L1126.47,1308.92 L1128.80,1309.30 L1131.13,1309.67 L1133.46,1310.03 L1135.79,1310.39 L1138.12,1310.74 L1140.45,1311.09 L1142.77,1311.44 L1145.10,1311.78 L1147.43,1312.12 L1149.76,1312.45 L1152.09,1312.78 L1154.42,1313.11 L1156.75,1313.43 L1159.08,1313.75 L1161.41,1314.07 L1163.74,1314.38 L1166.07,1314.69 L1168.39,1315.00 L1170.72,1315.30 L1173.05,1315.60 L1175.38,1315.90 L1177.71,1316.19 L1180.04,1316.48 L1182.37,1316.76 L1184.70,1317.04 L1187.03,1317.32 L1189.36,1317.60 L1191.68,1317.87 L1194.01,1318.14 L1196.34,1318.41 L1198.67,1318.67 L1201.00,1318.93 L1203.33,1319.19 L1205.66,1319.44 L1207.99,1319.69 L1210.32,1319.94 L1212.65,1320.19 L1214.97,1320.43 L1217.30,1320.67 L1219.63,1320.91 L1221.96,1321.14 L1224.29,1321.37 L1226.62,1321.60 L1228.95,1321.82 L1231.28,1322.05 L1233.61,1322.27 L1235.94,1322.48 L1238.27,1322.70 L1240.59,1322.91 L1242.92,1323.12 L1245.25,1323.32 L1247.58,1323.53 L1249.91,1323.73 L1252.24,1323.93 L1254.57,1324.12 L1256.90,1324.32 L1259.23,1324.51 L1261.56,1324.70 L1263.88,1324.89 L1266.21,1325.08 L1268.54,1325.26 L1270.87,1325.45 L1273.20,1325.63 L1275.53,1325.81 L1277.86,1325.99 L1280.19,1326.16 L1282.52,1326.34 L1284.85,1326.51 L1287.18,1326.68 L1289.50,1326.85 L1291.83,1327.02 L1294.16,1327.18 L1296.49,1327.35 L1298.82,1327.51 L1301.15,1327.67 L1303.48,1327.83 L1305.81,1327.98 L1308.14,1328.14 L1310.47,1328.29 L1312.79,1328.45 L1315.12,1328.60 L1317.45,1328.75 L1319.78,1328.89 L1322.11,1329.04 L1324.44,1329.18 L1326.77,1329.33 L1329.10,1329.47 L1331.43,1329.61 L1333.76,1329.75 L1336.09,1329.88 L1338.41,1330.02 L1340.74,1330.15 L1343.07,1330.28 L1345.40,1330.41 L1347.73,1330.54 L1350.06,1330.67 L1352.39,1330.79 L1354.72,1330.92 L1357.05,1331.04 L1359.38,1331.16 L1361.70,1331.28 L1364.03,1331.40 L1366.36,1331.52 L1368.69,1331.64 L1371.02,1331.75 L1373.35,1331.87 L1375.68,1331.98 L1378.01,1332.09 L1380.34,1332.20 L1382.67,1332.31 L1384.99,1332.41 L1387.32,1332.52 L1389.65,1332.62 L1391.98,1332.72 L1394.31,1332.83 L1396.64,1332.93 L1398.97,1333.03 L1401.30,1333.12 L1403.63,1333.22 L1405.96,1333.31 L1408.29,1333.41 L1410.61,1333.50 L1412.94,1333.59 L1415.27,1333.68 L1417.60,1333.77 L1419.93,1333.85 L1422.26,1333.94 L1424.59,1334.02 L1426.92,1334.11 L1429.25,1334.19 L1431.58,1334.27 L1433.90,1334.35 L1436.23,1334.43 L1438.56,1334.50 L1440.89,1334.58 L1443.22,1334.65 L1445.55,1334.73 L1447.88,1334.80 L1450.21,1334.87 L1452.54,1334.94 L1454.87,1335.02 L1457.20,1335.08 L1459.52,1335.15 L1461.85,1335.22 L1464.18,1335.29 L1466.51,1335.35 L1468.84,1335.42 L1471.17,1335.49 L1473.50,1335.55 L1475.83,1335.61 L1478.16,1335.68 L1480.49,1335.74 L1482.81,1335.80 L1485.14,1335.86 L1487.47,1335.92 L1489.80,1335.98 L1492.13,1336.04 L1494.46,1336.10 L1496.79,1336.15 L1499.12,1336.21 L1501.45,1336.27 L1503.78,1336.32 L1506.11,1336.38 L1508.43,1336.43 L1510.76,1336.49 L1513.09,1336.54 L1515.42,1336.60 L1517.75,1336.65 L1520.08,1336.70 L1522.41,1336.76 L1524.74,1336.81 L1527.07,1336.86 L1529.40,1336.91 L1531.72,1336.96 L1534.05,1337.02 L1536.38,1337.07 L1538.71,1337.12 L1541.04,1337.17 L1543.37,1337.22 L1545.70,1337.27 L1548.03,1337.31 L1550.36,1337.36 L1552.69,1337.41 L1555.02,1337.46 L1557.34,1337.51 L1559.67,1337.56 L1562.00,1337.61 L1564.33,1337.65 L1566.66,1337.70 L1568.99,1337.75 L1571.32,1337.80 L1573.65,1337.84 L1575.98,1337.89 L1578.31,1337.93 L1580.63,1337.98 L1582.96,1338.03 L1585.29,1338.07 L1587.62,1338.12 L1589.95,1338.16 L1592.28,1338.21 L1594.61,1338.25 L1596.94,1338.29 L1599.27,1338.34 L1601.60,1338.38 L1603.92,1338.42 L1606.25,1338.47 L1608.58,1338.51 L1610.91,1338.55 L1613.24,1338.59 L1615.57,1338.63 L1617.90,1338.67 L1620.23,1338.71 L1622.56,1338.75 L1624.89,1338.79 L1627.22,1338.83 L1629.54,1338.87 L1631.87,1338.91 L1634.20,1338.95 L1636.53,1338.99 L1638.86,1339.02 L1641.19,1339.06 L1643.52,1339.10 L1645.85,1339.13 L1648.18,1339.17 L1650.51,1339.21 L1652.83,1339.24 L1655.16,1339.27 L1657.49,1339.31 L1659.82,1339.34 L1662.15,1339.38 L1664.48,1339.41 L1666.81,1339.44 L1669.14,1339.47 L1671.47,1339.51 L1673.80,1339.54 L1676.13,1339.57 L1678.45,1339.60 L1680.78,1339.63 L1683.11,1339.66 L1685.44,1339.69 L1687.77,1339.71 L1690.10,1339.74 L1692.43,1339.77 L1694.76,1339.80 L1697.09,1339.82 L1699.42,1339.85 L1701.74,1339.88 L1704.07,1339.90 L1706.40,1339.93 L1708.73,1339.95 L1711.06,1339.98 L1713.39,1340.00 L1715.72,1340.02 L1718.05,1340.05 L1720.38,1340.07 L1722.71,1340.09 L1725.04,1340.11 L1727.36,1340.13 L1729.69,1340.16 L1732.02,1340.18 L1734.35,1340.20 L1736.68,1340.21 L1739.01,1340.23 L1741.34,1340.25 L1743.67,1340.27 L1746.00,1340.29 L1748.33,1340.31 L1750.65,1340.32 L1752.98,1340.34 L1755.31,1340.36 L1757.64,1340.37 L1759.97,1340.39 L1762.30,1340.40 L1764.63,1340.42 L1766.96,1340.43 L1769.29,1340.45 L1771.62,1340.46 L1773.94,1340.47 L1776.27,1340.49 L1778.60,1340.50 L1780.93,1340.51 L1783.26,1340.53 L1785.59,1340.54 L1787.92,1340.55 L1790.25,1340.56 L1792.58,1340.57 L1794.91,1340.59 L1797.24,1340.60 L1799.56,1340.61 L1801.89,1340.62 L1804.22,1340.63 L1806.55,1340.64 L1808.88,1340.65 L1811.21,1340.66 L1813.54,1340.67 L1815.87,1340.68 L1818.20,1340.69 L1820.53,1340.70 L1822.85,1340.70 L1825.18,1340.71 L1827.51,1340.72 L1829.84,1340.73 L1832.17,1340.74 L1834.50,1340.75" stroke="#ff0000" stroke-width="11" stroke-dasharray="37.5 37.5"/>
<path d="M206.50,58.50 L208.83,65.87 L211.16,73.20 L213.49,80.47 L215.82,87.70 L218.15,94.88 L220.47,102.01 L222.80,109.08 L225.13,116.11 L227.46,123.09 L229.79,130.01 L232.12,136.88 L234.45,143.70 L236.78,150.47 L239.11,157.17 L241.44,163.80 L243.76,170.34 L246.09,176.81 L248.42,183.19 L250.75,189.50 L253.08,195.73 L255.41,201.89 L257.74,207.97 L260.07,213.99 L262.40,219.95 L264.73,225.85 L267.06,231.70 L269.38,237.51 L271.71,243.28 L274.04,249.02 L276.37,254.75 L278.70,260.45 L281.03,266.15 L283.36,271.83 L285.69,277.52 L288.02,283.19 L290.35,288.83 L292.67,294.42 L295.00,299.99 L297.33,305.51 L299.66,311.01 L301.99,316.48 L304.32,321.91 L306.65,327.32 L308.98,332.69 L311.31,338.05 L313.64,343.38 L315.96,348.68 L318.29,353.97 L320.62,359.23 L322.95,364.47 L325.28,369.71 L327.61,374.93 L329.94,380.14 L332.27,385.35 L334.60,390.55 L336.93,395.74 L339.26,400.93 L341.58,406.12 L343.91,411.31 L346.24,416.53 L348.57,421.78 L350.90,427.04 L353.23,432.32 L355.56,437.61 L357.89,442.92 L360.22,448.24 L362.55,453.57 L364.87,458.90 L367.20,464.24 L369.53,469.58 L371.86,474.91 L374.19,480.24 L376.52,485.56 L378.85,490.89 L381.18,496.22 L383.51,501.54 L385.84,506.86 L388.17,512.17 L390.49,517.46 L392.82,522.73 L395.15,527.98 L397.48,533.22 L399.81,538.46 L402.14,543.70 L404.47,548.94 L406.80,554.18 L409.13,559.42 L411.46,564.65 L413.78,569.87 L416.11,575.09 L418.44,580.30 L420.77,585.50 L423.10,590.69 L425.43,595.87 L427.76,601.05 L430.09,606.23 L432.42,611.41 L434.75,616.59 L437.08,621.75 L439.40,626.92 L441.73,632.07 L444.06,637.21 L446.39,642.35 L448.72,647.47 L451.05,652.58 L453.38,657.68 L455.71,662.77 L458.04,667.87 L460.37,672.98 L462.69,678.08 L465.02,683.18 L467.35,688.27 L469.68,693.36 L472.01,698.44 L474.34,703.51 L476.67,708.57 L479.00,713.61 L481.33,718.64 L483.66,723.64 L485.98,728.63 L488.31,733.59 L490.64,738.52 L492.97,743.43 L495.30,748.30 L497.63,753.14 L499.96,757.95 L502.29,762.72 L504.62,767.44 L506.95,772.14 L509.28,776.82 L511.60,781.47 L513.93,786.09 L516.26,790.69 L518.59,795.27 L520.92,799.83 L523.25,804.36 L525.58,808.86 L527.91,813.34 L530.24,817.80 L532.57,822.24 L534.89,826.66 L537.22,831.05 L539.55,835.41 L541.88,839.75 L544.21,844.07 L546.54,848.36 L548.87,852.62 L551.20,856.86 L553.53,861.07 L555.86,865.26 L558.19,869.42 L560.51,873.55 L562.84,877.66 L565.17,881.73 L567.50,885.78 L569.83,889.80 L572.16,893.79 L574.49,897.75 L576.82,901.68 L579.15,905.59 L581.48,909.46 L583.80,913.30 L586.13,917.11 L588.46,920.90 L590.79,924.65 L593.12,928.37 L595.45,932.07 L597.78,935.74 L600.11,939.39 L602.44,943.01 L604.77,946.60 L607.10,950.17 L609.42,953.71 L611.75,957.23 L614.08,960.73 L616.41,964.19 L618.74,967.64 L621.07,971.06 L623.40,974.45 L625.73,977.82 L628.06,981.17 L630.39,984.49 L632.71,987.79 L635.04,991.07 L637.37,994.32 L639.70,997.55 L642.03,1000.76 L644.36,1003.94 L646.69,1007.10 L649.02,1010.24 L651.35,1013.35 L653.68,1016.44 L656.01,1019.51 L658.33,1022.56 L660.66,1025.59 L662.99,1028.59 L665.32,1031.58 L667.65,1034.54 L669.98,1037.47 L672.31,1040.39 L674.64,1043.28 L676.97,1046.15 L679.30,1049.00 L681.62,1051.82 L683.95,1054.62 L686.28,1057.39 L688.61,1060.15 L690.94,1062.88 L693.27,1065.58 L695.60,1068.26 L697.93,1070.92 L700.26,1073.56 L702.59,1076.17 L704.91,1078.75 L707.24,1081.31 L709.57,1083.85 L711.90,1086.37 L714.23,1088.85 L716.56,1091.32 L718.89,1093.76 L721.22,1096.18 L723.55,1098.58 L725.88,1100.95 L728.21,1103.31 L730.53,1105.65 L732.86,1107.96 L735.19,1110.26 L737.52,1112.54 L739.85,1114.79 L742.18,1117.03 L744.51,1119.25 L746.84,1121.45 L749.17,1123.63 L751.50,1125.79 L753.82,1127.93 L756.15,1130.05 L758.48,1132.15 L760.81,1134.23 L763.14,1136.29 L765.47,1138.34 L767.80,1140.36 L770.13,1142.37 L772.46,1144.36 L774.79,1146.32 L777.12,1148.27 L779.44,1150.20 L781.77,1152.12 L784.10,1154.01 L786.43,1155.89 L788.76,1157.74 L791.09,1159.58 L793.42,1161.40 L795.75,1163.21 L798.08,1164.99 L800.41,1166.76 L802.73,1168.51 L805.06,1170.24 L807.39,1171.95 L809.72,1173.65 L812.05,1175.33 L814.38,1176.99 L816.71,1178.64 L819.04,1180.26 L821.37,1181.87 L823.70,1183.47 L826.03,1185.05 L828.35,1186.61 L830.68,1188.16 L833.01,1189.69 L835.34,1191.20 L837.67,1192.70 L840.00,1194.19 L842.33,1195.66 L844.66,1197.11 L846.99,1198.55 L849.32,1199.98 L851.64,1201.39 L853.97,1202.79 L856.30,1204.18 L858.63,1205.55 L860.96,1206.90 L863.29,1208.25 L865.62,1209.58 L867.95,1210.90 L870.28,1212.20 L872.61,1213.49 L874.93,1214.77 L877.26,1216.04 L879.59,1217.29 L881.92,1218.53 L884.25,1219.76 L886.58,1220.98 L888.91,1222.18 L891.24,1223.38 L893.57,1224.56 L895.90,1225.73 L898.23,1226.89 L900.55,1228.04 L902.88,1229.18 L905.21,1230.30 L907.54,1231.42 L909.87,1232.52 L912.20,1233.61 L914.53,1234.69 L916.86,1235.76 L919.19,1236.82 L921.52,1237.87 L923.84,1238.91 L926.17,1239.94 L928.50,1240.96 L930.83,1241.97 L933.16,1242.97 L935.49,1243.96 L937.82,1244.94 L940.15,1245.91 L942.48,1246.87 L944.81,1247.82 L947.14,1248.76 L949.46,1249.70 L951.79,1250.62 L954.12,1251.54 L956.45,1252.44 L958.78,1253.34 L961.11,1254.23 L963.44,1255.11 L965.77,1255.99 L968.10,1256.85 L970.43,1257.71 L972.75,1258.55 L975.08,1259.39 L977.41,1260.23 L979.74,1261.05 L982.07,1261.87 L984.40,1262.67 L986.73,1263.47 L989.06,1264.26 L991.39,1265.05 L993.72,1265.82 L996.05,1266.59 L998.37,1267.35 L1000.70,1268.10 L1003.03,1268.84 L1005.36,1269.58 L1007.69,1270.31 L1010.02,1271.03 L1012.35,1271.75 L1014.68,1272.46 L1017.01,1273.16 L1019.34,1273.85 L1021.66,1274.54 L1023.99,1275.22 L1026.32,1275.90 L1028.65,1276.57 L1030.98,1277.24 L1033.31,1277.89 L1035.64,1278.55 L1037.97,1279.19 L1040.30,1279.84 L1042.63,1280.47 L1044.95,1281.10 L1047.28,1281.73 L1049.61,1282.35 L1051.94,1282.96 L1054.27,1283.58 L1056.60,1284.18 L1058.93,1284.78 L1061.26,1285.38 L1063.59,1285.97 L1065.92,1286.56 L1068.25,1287.14 L1070.57,1287.73 L1072.90,1288.30 L1075.23,1288.88 L1077.56,1289.44 L1079.89,1290.01 L1082.22,1290.57 L1084.55,1291.12 L1086.88,1291.67 L1089.21,1292.21 L1091.54,1292.75 L1093.86,1293.29 L1096.19,1293.82 L1098.52,1294.34 L1100.85,1294.86 L1103.18,1295.37 L1105.51,1295.87 L1107.84,1296.37 L1110.17,1296.87 L1112.50,1297.35 L1114.83,1297.84 L1117.16,1298.31 L1119.48,1298.78 L1121.81,1299.24 L1124.14,1299.70 L1126.47,1300.15 L1128.80,1300.59 L1131.13,1301.03 L1133.46,1301.46 L1135.79,1301.88 L1138.12,1302.30 L1140.45,1302.71 L1142.77,1303.12 L1145.10,1303.53 L1147.43,1303.93 L1149.76,1304.32 L1152.09,1304.72 L1154.42,1305.10 L1156.75,1305.49 L1159.08,1305.87 L1161.41,1306.24 L1163.74,1306.62 L1166.07,1306.98 L1168.39,1307.35 L1170.72,1307.71 L1173.05,1308.06 L1175.38,1308.42 L1177.71,1308.77 L1180.04,1309.11 L1182.37,1309.45 L1184.70,1309.79 L1187.03,1310.12 L1189.36,1310.45 L1191.68,1310.78 L1194.01,1311.10 L1196.34,1311.42 L1198.67,1311.74 L1201.00,1312.05 L1203.33,1312.36 L1205.66,1312.67 L1207.99,1312.97 L1210.32,1313.27 L1212.65,1313.57 L1214.97,1313.86 L1217.30,1314.15 L1219.63,1314.43 L1221.96,1314.72 L1224.29,1315.00 L1226.62,1315.27 L1228.95,1315.55 L1231.28,1315.82 L1233.61,1316.08 L1235.94,1316.35 L1238.27,1316.61 L1240.59,1316.87 L1242.92,1317.12 L1245.25,1317.38 L1247.58,1317.63 L1249.91,1317.87 L1252.24,1318.12 L1254.57,1318.36 L1256.90,1318.60 L1259.23,1318.84 L1261.56,1319.07 L1263.88,1319.30 L1266.21,1319.53 L1268.54,1319.76 L1270.87,1319.99 L1273.20,1320.22 L1275.53,1320.44 L1277.86,1320.66 L1280.19,1320.88 L1282.52,1321.09 L1284.85,1321.31 L1287.18,1321.52 L1289.50,1321.73 L1291.83,1321.94 L1294.16,1322.15 L1296.49,1322.35 L1298.82,1322.55 L1301.15,1322.75 L1303.48,1322.95 L1305.81,1323.15 L1308.14,1323.34 L1310.47,1323.53 L1312.79,1323.72 L1315.12,1323.91 L1317.45,1324.10 L1319.78,1324.28 L1322.11,1324.47 L1324.44,1324.65 L1326.77,1324.83 L1329.10,1325.00 L1331.43,1325.18 L1333.76,1325.35 L1336.09,1325.52 L1338.41,1325.69 L1340.74,1325.86 L1343.07,1326.02 L1345.40,1326.19 L1347.73,1326.35 L1350.06,1326.51 L1352.39,1326.67 L1354.72,1326.83 L1357.05,1326.98 L1359.38,1327.13 L1361.70,1327.29 L1364.03,1327.44 L1366.36,1327.58 L1368.69,1327.73 L1371.02,1327.87 L1373.35,1328.02 L1375.68,1328.16 L1378.01,1328.30 L1380.34,1328.43 L1382.67,1328.57 L1384.99,1328.70 L1387.32,1328.84 L1389.65,1328.97 L1391.98,1329.10 L1394.31,1329.23 L1396.64,1329.35 L1398.97,1329.48 L1401.30,1329.60 L1403.63,1329.72 L1405.96,1329.84 L1408.29,1329.96 L1410.61,1330.08 L1412.94,1330.19 L1415.27,1330.31 L1417.60,1330.42 L1419.93,1330.53 L1422.26,1330.64 L1424.59,1330.75 L1426.92,1330.86 L1429.25,1330.97 L1431.58,1331.07 L1433.90,1331.17 L1436.23,1331.28 L1438.56,1331.38 L1440.89,1331.48 L1443.22,1331.58 L1445.55,1331.68 L1447.88,1331.78 L1450.21,1331.87 L1452.54,1331.97 L1454.87,1332.06 L1457.20,1332.15 L1459.52,1332.25 L1461.85,1332.34 L1464.18,1332.43 L1466.51,1332.52 L1468.84,1332.61 L1471.17,1332.70 L1473.50,1332.78 L1475.83,1332.87 L1478.16,1332.96 L1480.49,1333.04 L1482.81,1333.12 L1485.14,1333.21 L1487.47,1333.29 L1489.80,1333.37 L1492.13,1333.45 L1494.46,1333.53 L1496.79,1333.61 L1499.12,1333.69 L1501.45,1333.77 L1503.78,1333.85 L1506.11,1333.92 L1508.43,1334.00 L1510.76,1334.08 L1513.09,1334.15 L1515.42,1334.23 L1517.75,1334.30 L1520.08,1334.38 L1522.41,1334.45 L1524.74,1334.52 L1527.07,1334.59 L1529.40,1334.66 L1531.72,1334.74 L1534.05,1334.81 L1536.38,1334.88 L1538.71,1334.95 L1541.04,1335.02 L1543.37,1335.08 L1545.70,1335.15 L1548.03,1335.22 L1550.36,1335.29 L1552.69,1335.36 L1555.02,1335.42 L1557.34,1335.49 L1559.67,1335.56 L1562.00,1335.62 L1564.33,1335.69 L1566.66,1335.76 L1568.99,1335.83 L1571.32,1335.89 L1573.65,1335.96 L1575.98,1336.02 L1578.31,1336.09 L1580.63,1336.16 L1582.96,1336.22 L1585.29,1336.29 L1587.62,1336.35 L1589.95,1336.41 L1592.28,1336.48 L1594.61,1336.54 L1596.94,1336.61 L1599.27,1336.67 L1601.60,1336.73 L1603.92,1336.79 L1606.25,1336.86 L1608.58,1336.92 L1610.91,1336.98 L1613.24,1337.04 L1615.57,1337.10 L1617.90,1337.16 L1620.23,1337.22 L1622.56,1337.27 L1624.89,1337.33 L1627.22,1337.39 L1629.54,1337.45 L1631.87,1337.50 L1634.20,1337.56 L1636.53,1337.61 L1638.86,1337.67 L1641.19,1337.72 L1643.52,1337.78 L1645.85,1337.83 L1648.18,1337.88 L1650.51,1337.94 L1652.83,1337.99 L1655.16,1338.04 L1657.49,1338.09 L1659.82,1338.14 L1662.15,1338.19 L1664.48,1338.23 L1666.81,1338.28 L1669.14,1338.33 L1671.47,1338.38 L1673.80,1338.42 L1676.13,1338.47 L1678.45,1338.51 L1680.78,1338.56 L1683.11,1338.60 L1685.44,1338.64 L1687.77,1338.68 L1690.10,1338.73 L1692.43,1338.77 L1694.76,1338.81 L1697.09,1338.85 L1699.42,1338.89 L1701.74,1338.92 L1704.07,1338.96 L1706.40,1339.00 L1708.73,1339.03 L1711.06,1339.07 L1713.39,1339.11 L1715.72,1339.14 L1718.05,1339.17 L1720.38,1339.21 L1722.71,1339.24 L1725.04,1339.27 L1727.36,1339.30 L1729.69,1339.33 L1732.02,1339.36 L1734.35,1339.39 L1736.68,1339.42 L1739.01,1339.45 L1741.34,1339.48 L1743.67,1339.51 L1746.00,1339.54 L1748.33,1339.56 L1750.65,1339.59 L1752.98,1339.62 L1755.31,1339.64 L1757.64,1339.67 L1759.97,1339.69 L1762.30,1339.72 L1764.63,1339.74 L1766.96,1339.77 L1769.29,1339.79 L1771.62,1339.81 L1773.94,1339.84 L1776.27,1339.86 L1778.60,1339.88 L1780.93,1339.90 L1783.26,1339.93 L1785.59,1339.95 L1787.92,1339.97 L1790.25,1339.99 L1792.58,1340.01 L1794.91,1340.03 L1797.24,1340.05 L1799.56,1340.07 L1801.89,1340.09 L1804.22,1340.11 L1806.55,1340.12 L1808.88,1340.14 L1811.21,1340.16 L1813.54,1340.18 L1815.87,1340.20 L1818.20,1340.21 L1820.53,1340.23 L1822.85,1340.25 L1825.18,1340.26 L1827.51,1340.28 L1829.84,1340.30 L1832.17,1340.31 L1834.50,1340.33" stroke="#ff0000" stroke-width="11" stroke-dasharray="37.5 37.5"/>
<path d="M206.50,58.50 L208.83,65.68 L211.16,72.81 L213.49,79.91 L215.82,86.96 L218.15,93.96 L220.47,100.92 L222.80,107.84 L225.13,114.71 L227.46,121.53 L229.79,128.31 L232.12,135.04 L234.45,141.72 L236.78,148.36 L239.11,154.94 L241.44,161.44 L243.76,167.87 L246.09,174.22 L248.42,180.48 L250.75,186.67 L253.08,192.78 L255.41,198.82 L257.74,204.78 L260.07,210.68 L262.40,216.51 L264.73,222.28 L267.06,228.00 L269.38,233.67 L271.71,239.30 L274.04,244.90 L276.37,250.47 L278.70,256.03 L281.03,261.58 L283.36,267.13 L285.69,272.70 L288.02,278.26 L290.35,283.78 L292.67,289.27 L295.00,294.72 L297.33,300.14 L299.66,305.52 L301.99,310.88 L304.32,316.20 L306.65,321.49 L308.98,326.76 L311.31,332.00 L313.64,337.21 L315.96,342.40 L318.29,347.56 L320.62,352.71 L322.95,357.83 L325.28,362.94 L327.61,368.02 L329.94,373.09 L332.27,378.15 L334.60,383.19 L336.93,388.22 L339.26,393.24 L341.58,398.25 L343.91,403.27 L346.24,408.32 L348.57,413.40 L350.90,418.50 L353.23,423.62 L355.56,428.76 L357.89,433.92 L360.22,439.10 L362.55,444.29 L364.87,449.49 L367.20,454.70 L369.53,459.92 L371.86,465.14 L374.19,470.35 L376.52,475.57 L378.85,480.77 L381.18,485.97 L383.51,491.15 L385.84,496.31 L388.17,501.45 L390.49,506.57 L392.82,511.65 L395.15,516.70 L397.48,521.73 L399.81,526.76 L402.14,531.79 L404.47,536.82 L406.80,541.85 L409.13,546.87 L411.46,551.89 L413.78,556.91 L416.11,561.93 L418.44,566.94 L420.77,571.95 L423.10,576.95 L425.43,581.95 L427.76,586.94 L430.09,591.93 L432.42,596.91 L434.75,601.89 L437.08,606.86 L439.40,611.82 L441.73,616.78 L444.06,621.72 L446.39,626.66 L448.72,631.59 L451.05,636.51 L453.38,641.42 L455.71,646.34 L458.04,651.27 L460.37,656.22 L462.69,661.18 L465.02,666.15 L467.35,671.12 L469.68,676.10 L472.01,681.07 L474.34,686.04 L476.67,691.01 L479.00,695.96 L481.33,700.90 L483.66,705.83 L485.98,710.73 L488.31,715.62 L490.64,720.47 L492.97,725.30 L495.30,730.09 L497.63,734.85 L499.96,739.58 L502.29,744.26 L504.62,748.89 L506.95,753.50 L509.28,758.08 L511.60,762.63 L513.93,767.17 L516.26,771.68 L518.59,776.16 L520.92,780.63 L523.25,785.07 L525.58,789.48 L527.91,793.87 L530.24,798.23 L532.57,802.58 L534.89,806.89 L537.22,811.18 L539.55,815.45 L541.88,819.69 L544.21,823.91 L546.54,828.10 L548.87,832.27 L551.20,836.41 L553.53,840.53 L555.86,844.62 L558.19,848.68 L560.51,852.72 L562.84,856.74 L565.17,860.73 L567.50,864.69 L569.83,868.63 L572.16,872.54 L574.49,876.43 L576.82,880.29 L579.15,884.12 L581.48,887.93 L583.80,891.71 L586.13,895.47 L588.46,899.20 L590.79,902.91 L593.12,906.59 L595.45,910.24 L597.78,913.87 L600.11,917.48 L602.44,921.06 L604.77,924.62 L607.10,928.15 L609.42,931.66 L611.75,935.15 L614.08,938.61 L616.41,942.05 L618.74,945.47 L621.07,948.87 L623.40,952.24 L625.73,955.59 L628.06,958.92 L630.39,962.22 L632.71,965.51 L635.04,968.77 L637.37,972.02 L639.70,975.24 L642.03,978.44 L644.36,981.62 L646.69,984.78 L649.02,987.92 L651.35,991.04 L653.68,994.14 L656.01,997.22 L658.33,1000.29 L660.66,1003.33 L662.99,1006.35 L665.32,1009.36 L667.65,1012.34 L669.98,1015.31 L672.31,1018.25 L674.64,1021.18 L676.97,1024.08 L679.30,1026.96 L681.62,1029.83 L683.95,1032.67 L686.28,1035.49 L688.61,1038.29 L690.94,1041.06 L693.27,1043.82 L695.60,1046.55 L697.93,1049.26 L700.26,1051.95 L702.59,1054.62 L704.91,1057.26 L707.24,1059.89 L709.57,1062.48 L711.90,1065.06 L714.23,1067.61 L716.56,1070.14 L718.89,1072.65 L721.22,1075.13 L723.55,1077.60 L725.88,1080.04 L728.21,1082.47 L730.53,1084.88 L732.86,1087.27 L735.19,1089.64 L737.52,1091.99 L739.85,1094.32 L742.18,1096.63 L744.51,1098.93 L746.84,1101.21 L749.17,1103.46 L751.50,1105.70 L753.82,1107.92 L756.15,1110.13 L758.48,1112.31 L760.81,1114.48 L763.14,1116.62 L765.47,1118.75 L767.80,1120.86 L770.13,1122.96 L772.46,1125.03 L774.79,1127.09 L777.12,1129.13 L779.44,1131.15 L781.77,1133.15 L784.10,1135.13 L786.43,1137.10 L788.76,1139.05 L791.09,1140.98 L793.42,1142.89 L795.75,1144.79 L798.08,1146.67 L800.41,1148.53 L802.73,1150.37 L805.06,1152.19 L807.39,1154.00 L809.72,1155.79 L812.05,1157.57 L814.38,1159.33 L816.71,1161.06 L819.04,1162.79 L821.37,1164.49 L823.70,1166.18 L826.03,1167.86 L828.35,1169.52 L830.68,1171.16 L833.01,1172.79 L835.34,1174.41 L837.67,1176.01 L840.00,1177.59 L842.33,1179.16 L844.66,1180.71 L846.99,1182.25 L849.32,1183.78 L851.64,1185.29 L853.97,1186.79 L856.30,1188.27 L858.63,1189.74 L860.96,1191.19 L863.29,1192.63 L865.62,1194.06 L867.95,1195.48 L870.28,1196.88 L872.61,1198.26 L874.93,1199.64 L877.26,1201.00 L879.59,1202.34 L881.92,1203.68 L884.25,1205.00 L886.58,1206.30 L888.91,1207.60 L891.24,1208.88 L893.57,1210.15 L895.90,1211.41 L898.23,1212.66 L900.55,1213.89 L902.88,1215.11 L905.21,1216.32 L907.54,1217.52 L909.87,1218.70 L912.20,1219.88 L914.53,1221.04 L916.86,1222.19 L919.19,1223.33 L921.52,1224.46 L923.84,1225.58 L926.17,1226.69 L928.50,1227.79 L930.83,1228.87 L933.16,1229.95 L935.49,1231.02 L937.82,1232.07 L940.15,1233.12 L942.48,1234.16 L944.81,1235.18 L947.14,1236.20 L949.46,1237.21 L951.79,1238.21 L954.12,1239.20 L956.45,1240.18 L958.78,1241.15 L961.11,1242.11 L963.44,1243.06 L965.77,1244.01 L968.10,1244.95 L970.43,1245.87 L972.75,1246.79 L975.08,1247.70 L977.41,1248.61 L979.74,1249.50 L982.07,1250.39 L984.40,1251.27 L986.73,1252.14 L989.06,1253.00 L991.39,1253.85 L993.72,1254.69 L996.05,1255.53 L998.37,1256.35 L1000.70,1257.17 L1003.03,1257.98 L1005.36,1258.79 L1007.69,1259.58 L1010.02,1260.37 L1012.35,1261.15 L1014.68,1261.92 L1017.01,1262.69 L1019.34,1263.45 L1021.66,1264.21 L1023.99,1264.95 L1026.32,1265.69 L1028.65,1266.43 L1030.98,1267.16 L1033.31,1267.88 L1035.64,1268.59 L1037.97,1269.30 L1040.30,1270.01 L1042.63,1270.71 L1044.95,1271.40 L1047.28,1272.09 L1049.61,1272.77 L1051.94,1273.45 L1054.27,1274.12 L1056.60,1274.79 L1058.93,1275.46 L1061.26,1276.11 L1063.59,1276.77 L1065.92,1277.42 L1068.25,1278.07 L1070.57,1278.71 L1072.90,1279.35 L1075.23,1279.99 L1077.56,1280.62 L1079.89,1281.24 L1082.22,1281.86 L1084.55,1282.48 L1086.88,1283.09 L1089.21,1283.69 L1091.54,1284.29 L1093.86,1284.89 L1096.19,1285.48 L1098.52,1286.06 L1100.85,1286.64 L1103.18,1287.21 L1105.51,1287.77 L1107.84,1288.33 L1110.17,1288.88 L1112.50,1289.43 L1114.83,1289.97 L1117.16,1290.50 L1119.48,1291.02 L1121.81,1291.54 L1124.14,1292.05 L1126.47,1292.56 L1128.80,1293.06 L1131.13,1293.55 L1133.46,1294.03 L1135.79,1294.51 L1138.12,1294.98 L1140.45,1295.44 L1142.77,1295.90 L1145.10,1296.36 L1147.43,1296.81 L1149.76,1297.25 L1152.09,1297.69 L1154.42,1298.13 L1156.75,1298.56 L1159.08,1298.99 L1161.41,1299.42 L1163.74,1299.83 L1166.07,1300.25 L1168.39,1300.66 L1170.72,1301.07 L1173.05,1301.47 L1175.38,1301.87 L1177.71,1302.26 L1180.04,1302.65 L1182.37,1303.04 L1184.70,1303.42 L1187.03,1303.80 L1189.36,1304.18 L1191.68,1304.55 L1194.01,1304.91 L1196.34,1305.28 L1198.67,1305.64 L1201.00,1305.99 L1203.33,1306.34 L1205.66,1306.69 L1207.99,1307.04 L1210.32,1307.38 L1212.65,1307.72 L1214.97,1308.05 L1217.30,1308.38 L1219.63,1308.71 L1221.96,1309.03 L1224.29,1309.35 L1226.62,1309.67 L1228.95,1309.98 L1231.28,1310.29 L1233.61,1310.60 L1235.94,1310.90 L1238.27,1311.20 L1240.59,1311.50 L1242.92,1311.80 L1245.25,1312.09 L1247.58,1312.38 L1249.91,1312.66 L1252.24,1312.94 L1254.57,1313.22 L1256.90,1313.50 L1259.23,1313.77 L1261.56,1314.05 L1263.88,1314.32 L1266.21,1314.59 L1268.54,1314.85 L1270.87,1315.11 L1273.20,1315.38 L1275.53,1315.63 L1277.86,1315.89 L1280.19,1316.15 L1282.52,1316.40 L1284.85,1316.65 L1287.18,1316.90 L1289.50,1317.14 L1291.83,1317.38 L1294.16,1317.62 L1296.49,1317.86 L1298.82,1318.10 L1301.15,1318.33 L1303.48,1318.57 L1305.81,1318.80 L1308.14,1319.02 L1310.47,1319.25 L1312.79,1319.47 L1315.12,1319.69 L1317.45,1319.91 L1319.78,1320.13 L1322.11,1320.34 L1324.44,1320.55 L1326.77,1320.76 L1329.10,1320.97 L1331.43,1321.18 L1333.76,1321.38 L1336.09,1321.58 L1338.41,1321.78 L1340.74,1321.98 L1343.07,1322.17 L1345.40,1322.36 L1347.73,1322.55 L1350.06,1322.74 L1352.39,1322.93 L1354.72,1323.11 L1357.05,1323.30 L1359.38,1323.48 L1361.70,1323.65 L1364.03,1323.83 L1366.36,1324.00 L1368.69,1324.18 L1371.02,1324.35 L1373.35,1324.51 L1375.68,1324.68 L1378.01,1324.84 L1380.34,1325.00 L1382.67,1325.16 L1384.99,1325.32 L1387.32,1325.48 L1389.65,1325.63 L1391.98,1325.79 L1394.31,1325.94 L1396.64,1326.08 L1398.97,1326.23 L1401.30,1326.38 L1403.63,1326.52 L1405.96,1326.66 L1408.29,1326.80 L1410.61,1326.94 L1412.94,1327.08 L1415.27,1327.21 L1417.60,1327.35 L1419.93,1327.48 L1422.26,1327.61 L1424.59,1327.75 L1426.92,1327.88 L1429.25,1328.00 L1431.58,1328.13 L1433.90,1328.26 L1436.23,1328.38 L1438.56,1328.51 L1440.89,1328.63 L1443.22,1328.75 L1445.55,1328.87 L1447.88,1328.99 L1450.21,1329.11 L1452.54,1329.23 L1454.87,1329.34 L1457.20,1329.46 L1459.52,1329.57 L1461.85,1329.69 L1464.18,1329.80 L1466.51,1329.91 L1468.84,1330.02 L1471.17,1330.13 L1473.50,1330.24 L1475.83,1330.35 L1478.16,1330.45 L1480.49,1330.56 L1482.81,1330.66 L1485.14,1330.77 L1487.47,1330.87 L1489.80,1330.98 L1492.13,1331.08 L1494.46,1331.18 L1496.79,1331.28 L1499.12,1331.38 L1501.45,1331.48 L1503.78,1331.57 L1506.11,1331.67 L1508.43,1331.77 L1510.76,1331.86 L1513.09,1331.96 L1515.42,1332.05 L1517.75,1332.15 L1520.08,1332.24 L1522.41,1332.33 L1524.74,1332.42 L1527.07,1332.52 L1529.40,1332.61 L1531.72,1332.70 L1534.05,1332.78 L1536.38,1332.87 L1538.71,1332.96 L1541.04,1333.05 L1543.37,1333.14 L1545.70,1333.22 L1548.03,1333.31 L1550.36,1333.39 L1552.69,1333.48 L1555.02,1333.56 L1557.34,1333.65 L1559.67,1333.73 L1562.00,1333.82 L1564.33,1333.90 L1566.66,1333.99 L1568.99,1334.07 L1571.32,1334.16 L1573.65,1334.24 L1575.98,1334.33 L1578.31,1334.41 L1580.63,1334.50 L1582.96,1334.58 L1585.29,1334.66 L1587.62,1334.75 L1589.95,1334.83 L1592.28,1334.91 L1594.61,1334.99 L1596.94,1335.08 L1599.27,1335.16 L1601.60,1335.24 L1603.92,1335.32 L1606.25,1335.40 L1608.58,1335.48 L1610.91,1335.56 L1613.24,1335.64 L1615.57,1335.72 L1617.90,1335.79 L1620.23,1335.87 L1622.56,1335.95 L1624.89,1336.02 L1627.22,1336.10 L1629.54,1336.17 L1631.87,1336.24 L1634.20,1336.32 L1636.53,1336.39 L1638.86,1336.46 L1641.19,1336.53 L1643.52,1336.60 L1645.85,1336.67 L1648.18,1336.74 L1650.51,1336.81 L1652.83,1336.88 L1655.16,1336.94 L1657.49,1337.01 L1659.82,1337.07 L1662.15,1337.14 L1664.48,1337.20 L1666.81,1337.26 L1669.14,1337.32 L1671.47,1337.38 L1673.80,1337.44 L1676.13,1337.50 L1678.45,1337.56 L1680.78,1337.62 L1683.11,1337.67 L1685.44,1337.73 L1687.77,1337.79 L1690.10,1337.84 L1692.43,1337.89 L1694.76,1337.95 L1697.09,1338.00 L1699.42,1338.05 L1701.74,1338.10 L1704.07,1338.15 L1706.40,1338.19 L1708.73,1338.24 L1711.06,1338.29 L1713.39,1338.33 L1715.72,1338.38 L1718.05,1338.42 L1720.38,1338.46 L1722.71,1338.51 L1725.04,1338.55 L1727.36,1338.59 L1729.69,1338.63 L1732.02,1338.67 L1734.35,1338.71 L1736.68,1338.75 L1739.01,1338.79 L1741.34,1338.83 L1743.67,1338.86 L1746.00,1338.90 L1748.33,1338.94 L1750.65,1338.97 L1752.98,1339.01 L1755.31,1339.04 L1757.64,1339.08 L1759.97,1339.11 L1762.30,1339.15 L1764.63,1339.18 L1766.96,1339.21 L1769.29,1339.24 L1771.62,1339.28 L1773.94,1339.31 L1776.27,1339.34 L1778.60,1339.37 L1780.93,1339.40 L1783.26,1339.43 L1785.59,1339.46 L1787.92,1339.49 L1790.25,1339.52 L1792.58,1339.54 L1794.91,1339.57 L1797.24,1339.60 L1799.56,1339.63 L1801.89,1339.65 L1804.22,1339.68 L1806.55,1339.71 L1808.88,1339.73 L1811.21,1339.76 L1813.54,1339.78 L1815.87,1339.81 L1818.20,1339.83 L1820.53,1339.86 L1822.85,1339.88 L1825.18,1339.90 L1827.51,1339.93 L1829.84,1339.95 L1832.17,1339.97 L1834.50,1340.00" stroke="#ff0000" stroke-width="11" stroke-dasharray="37.5 37.5"/>
</g>
<g shape-rendering="crispEdges">
<line x1="487.6" y1="1120.0" x2="699.4" y2="899.1" stroke="#000" stroke-width="11.3"/>
<polygon points="727.5,869.8 671.7,896.4 699.7,898.8 703.3,926.7" fill="#000" stroke="#000" stroke-width="3" stroke-linejoin="round"/>
</g>
<rect x="848.5" y="840.5" width="600" height="112" fill="#fff" stroke="#000" stroke-width="11" shape-rendering="crispEdges"/>
<text class="an" x="873" y="912">M <tspan dy="6">=</tspan><tspan dy="-6"> 1.0, 4.0, 7.0, 10.0</tspan></text>
<rect x="1097" y="300" width="89" height="11" fill="#64d413" shape-rendering="crispEdges"/>
<text class="an" x="1219" y="313.2">TiO<tspan font-size="46.9" dy="29.6">2</tspan><tspan dy="-29.6">/Water</tspan></text>
<g fill="#ff0000" shape-rendering="crispEdges">
<rect x="1109" y="407" width="17" height="8"/>
<rect x="1132" y="407" width="17" height="8"/>
<rect x="1155" y="407" width="17" height="8"/>
<rect x="1179" y="407" width="17" height="8"/>
</g>
<text class="an" x="1210" y="426.3">Cu<tspan dy="5.7">+</tspan><tspan dy="-5.7">TiO</tspan><tspan font-size="46.9" dy="29.2">2</tspan><tspan dy="-29.2">/Water</tspan></text>
</svg>
</body></html>
